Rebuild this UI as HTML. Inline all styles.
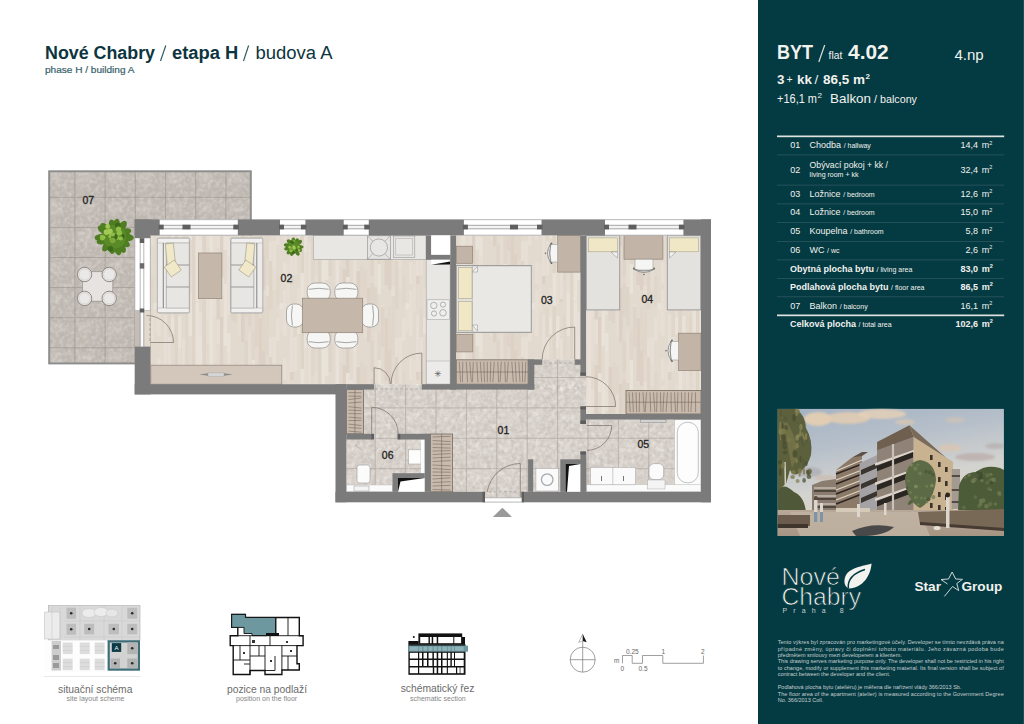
<!DOCTYPE html>
<html><head><meta charset="utf-8"><title>Nové Chabry 4.02</title>
<style>html,body{margin:0;padding:0;background:#fff;}body{width:1024px;height:724px;overflow:hidden;font-family:"Liberation Sans",sans-serif;}svg{display:block;}</style>
</head><body>
<svg width="1024" height="724" viewBox="0 0 1024 724"><defs><pattern id="wood" patternUnits="userSpaceOnUse" x="150" y="235" width="126" height="96"><rect width="126" height="96" fill="#e3dacf"/><rect x="0" y="41" width="3.5" height="29" fill="#e0d6ca"/><rect x="0" y="-55" width="3.5" height="29" fill="#e0d6ca"/><rect x="0" y="83" width="3.5" height="23" fill="#e7dfd5"/><rect x="0" y="-13" width="3.5" height="23" fill="#e7dfd5"/><rect x="3.5" y="68" width="3.5" height="26" fill="#e9e2d9"/><rect x="3.5" y="-28" width="3.5" height="26" fill="#e9e2d9"/><rect x="3.5" y="74" width="3.5" height="23" fill="#e5ddd2"/><rect x="3.5" y="-22" width="3.5" height="23" fill="#e5ddd2"/><rect x="7.0" y="27" width="3.5" height="22" fill="#e7dfd5"/><rect x="7.0" y="-69" width="3.5" height="22" fill="#e7dfd5"/><rect x="7.0" y="55" width="3.5" height="46" fill="#e7dfd5"/><rect x="7.0" y="-41" width="3.5" height="46" fill="#e7dfd5"/><rect x="10.5" y="30" width="3.5" height="25" fill="#e5ddd2"/><rect x="10.5" y="-66" width="3.5" height="25" fill="#e5ddd2"/><rect x="10.5" y="54" width="3.5" height="23" fill="#e5ddd2"/><rect x="10.5" y="-42" width="3.5" height="23" fill="#e5ddd2"/><rect x="14.0" y="15" width="3.5" height="34" fill="#dcd1c4"/><rect x="14.0" y="-81" width="3.5" height="34" fill="#dcd1c4"/><rect x="14.0" y="80" width="3.5" height="57" fill="#e7dfd5"/><rect x="14.0" y="-16" width="3.5" height="57" fill="#e7dfd5"/><rect x="17.5" y="73" width="3.5" height="57" fill="#e0d6ca"/><rect x="17.5" y="-23" width="3.5" height="57" fill="#e0d6ca"/><rect x="17.5" y="6" width="3.5" height="34" fill="#e7dfd5"/><rect x="17.5" y="-90" width="3.5" height="34" fill="#e7dfd5"/><rect x="21.0" y="71" width="3.5" height="28" fill="#e9e2d9"/><rect x="21.0" y="-25" width="3.5" height="28" fill="#e9e2d9"/><rect x="21.0" y="53" width="3.5" height="29" fill="#e5ddd2"/><rect x="21.0" y="-43" width="3.5" height="29" fill="#e5ddd2"/><rect x="24.5" y="15" width="3.5" height="56" fill="#e9e2d9"/><rect x="24.5" y="-81" width="3.5" height="56" fill="#e9e2d9"/><rect x="24.5" y="71" width="3.5" height="63" fill="#ded4c8"/><rect x="24.5" y="-25" width="3.5" height="63" fill="#ded4c8"/><rect x="28.0" y="13" width="3.5" height="57" fill="#e5ddd2"/><rect x="28.0" y="-83" width="3.5" height="57" fill="#e5ddd2"/><rect x="28.0" y="81" width="3.5" height="32" fill="#e9e2d9"/><rect x="28.0" y="-15" width="3.5" height="32" fill="#e9e2d9"/><rect x="31.5" y="12" width="3.5" height="55" fill="#dcd1c4"/><rect x="31.5" y="-84" width="3.5" height="55" fill="#dcd1c4"/><rect x="31.5" y="8" width="3.5" height="56" fill="#e7dfd5"/><rect x="31.5" y="-88" width="3.5" height="56" fill="#e7dfd5"/><rect x="35.0" y="79" width="3.5" height="33" fill="#e0d6ca"/><rect x="35.0" y="-17" width="3.5" height="33" fill="#e0d6ca"/><rect x="35.0" y="87" width="3.5" height="54" fill="#e0d6ca"/><rect x="35.0" y="-9" width="3.5" height="54" fill="#e0d6ca"/><rect x="38.5" y="40" width="3.5" height="49" fill="#e5ddd2"/><rect x="38.5" y="-56" width="3.5" height="49" fill="#e5ddd2"/><rect x="38.5" y="58" width="3.5" height="43" fill="#e9e2d9"/><rect x="38.5" y="-38" width="3.5" height="43" fill="#e9e2d9"/><rect x="42.0" y="31" width="3.5" height="70" fill="#ded4c8"/><rect x="42.0" y="-65" width="3.5" height="70" fill="#ded4c8"/><rect x="42.0" y="89" width="3.5" height="69" fill="#ded4c8"/><rect x="42.0" y="-7" width="3.5" height="69" fill="#ded4c8"/><rect x="45.5" y="10" width="3.5" height="56" fill="#e9e2d9"/><rect x="45.5" y="-86" width="3.5" height="56" fill="#e9e2d9"/><rect x="45.5" y="67" width="3.5" height="51" fill="#e9e2d9"/><rect x="45.5" y="-29" width="3.5" height="51" fill="#e9e2d9"/><rect x="49.0" y="93" width="3.5" height="48" fill="#e9e2d9"/><rect x="49.0" y="-3" width="3.5" height="48" fill="#e9e2d9"/><rect x="49.0" y="77" width="3.5" height="24" fill="#e7dfd5"/><rect x="49.0" y="-19" width="3.5" height="24" fill="#e7dfd5"/><rect x="52.5" y="65" width="3.5" height="46" fill="#ded4c8"/><rect x="52.5" y="-31" width="3.5" height="46" fill="#ded4c8"/><rect x="52.5" y="96" width="3.5" height="41" fill="#ded4c8"/><rect x="52.5" y="0" width="3.5" height="41" fill="#ded4c8"/><rect x="56.0" y="62" width="3.5" height="46" fill="#e7dfd5"/><rect x="56.0" y="-34" width="3.5" height="46" fill="#e7dfd5"/><rect x="56.0" y="85" width="3.5" height="24" fill="#e5ddd2"/><rect x="56.0" y="-11" width="3.5" height="24" fill="#e5ddd2"/><rect x="59.5" y="73" width="3.5" height="70" fill="#e9e2d9"/><rect x="59.5" y="-23" width="3.5" height="70" fill="#e9e2d9"/><rect x="59.5" y="43" width="3.5" height="64" fill="#e9e2d9"/><rect x="59.5" y="-53" width="3.5" height="64" fill="#e9e2d9"/><rect x="63.0" y="76" width="3.5" height="51" fill="#e5ddd2"/><rect x="63.0" y="-20" width="3.5" height="51" fill="#e5ddd2"/><rect x="63.0" y="58" width="3.5" height="24" fill="#e7dfd5"/><rect x="63.0" y="-38" width="3.5" height="24" fill="#e7dfd5"/><rect x="66.5" y="34" width="3.5" height="50" fill="#dcd1c4"/><rect x="66.5" y="-62" width="3.5" height="50" fill="#dcd1c4"/><rect x="66.5" y="85" width="3.5" height="24" fill="#e7dfd5"/><rect x="66.5" y="-11" width="3.5" height="24" fill="#e7dfd5"/><rect x="70.0" y="93" width="3.5" height="64" fill="#e9e2d9"/><rect x="70.0" y="-3" width="3.5" height="64" fill="#e9e2d9"/><rect x="70.0" y="82" width="3.5" height="56" fill="#dcd1c4"/><rect x="70.0" y="-14" width="3.5" height="56" fill="#dcd1c4"/><rect x="73.5" y="57" width="3.5" height="38" fill="#dcd1c4"/><rect x="73.5" y="-39" width="3.5" height="38" fill="#dcd1c4"/><rect x="73.5" y="49" width="3.5" height="62" fill="#e9e2d9"/><rect x="73.5" y="-47" width="3.5" height="62" fill="#e9e2d9"/><rect x="77.0" y="2" width="3.5" height="49" fill="#e9e2d9"/><rect x="77.0" y="-94" width="3.5" height="49" fill="#e9e2d9"/><rect x="77.0" y="21" width="3.5" height="59" fill="#e7dfd5"/><rect x="77.0" y="-75" width="3.5" height="59" fill="#e7dfd5"/><rect x="80.5" y="63" width="3.5" height="23" fill="#ded4c8"/><rect x="80.5" y="-33" width="3.5" height="23" fill="#ded4c8"/><rect x="80.5" y="36" width="3.5" height="28" fill="#dcd1c4"/><rect x="80.5" y="-60" width="3.5" height="28" fill="#dcd1c4"/><rect x="84.0" y="31" width="3.5" height="45" fill="#e0d6ca"/><rect x="84.0" y="-65" width="3.5" height="45" fill="#e0d6ca"/><rect x="84.0" y="63" width="3.5" height="25" fill="#ded4c8"/><rect x="84.0" y="-33" width="3.5" height="25" fill="#ded4c8"/><rect x="87.5" y="57" width="3.5" height="45" fill="#e5ddd2"/><rect x="87.5" y="-39" width="3.5" height="45" fill="#e5ddd2"/><rect x="87.5" y="35" width="3.5" height="28" fill="#e0d6ca"/><rect x="87.5" y="-61" width="3.5" height="28" fill="#e0d6ca"/><rect x="91.0" y="70" width="3.5" height="37" fill="#dcd1c4"/><rect x="91.0" y="-26" width="3.5" height="37" fill="#dcd1c4"/><rect x="91.0" y="53" width="3.5" height="42" fill="#dcd1c4"/><rect x="91.0" y="-43" width="3.5" height="42" fill="#dcd1c4"/><rect x="94.5" y="48" width="3.5" height="34" fill="#ded4c8"/><rect x="94.5" y="-48" width="3.5" height="34" fill="#ded4c8"/><rect x="94.5" y="10" width="3.5" height="31" fill="#ded4c8"/><rect x="94.5" y="-86" width="3.5" height="31" fill="#ded4c8"/><rect x="98.0" y="29" width="3.5" height="62" fill="#ded4c8"/><rect x="98.0" y="-67" width="3.5" height="62" fill="#ded4c8"/><rect x="98.0" y="1" width="3.5" height="51" fill="#e5ddd2"/><rect x="98.0" y="-95" width="3.5" height="51" fill="#e5ddd2"/><rect x="101.5" y="23" width="3.5" height="36" fill="#e9e2d9"/><rect x="101.5" y="-73" width="3.5" height="36" fill="#e9e2d9"/><rect x="101.5" y="0" width="3.5" height="29" fill="#e0d6ca"/><rect x="101.5" y="-96" width="3.5" height="29" fill="#e0d6ca"/><rect x="105.0" y="68" width="3.5" height="43" fill="#e5ddd2"/><rect x="105.0" y="-28" width="3.5" height="43" fill="#e5ddd2"/><rect x="105.0" y="72" width="3.5" height="40" fill="#ded4c8"/><rect x="105.0" y="-24" width="3.5" height="40" fill="#ded4c8"/><rect x="108.5" y="88" width="3.5" height="52" fill="#e5ddd2"/><rect x="108.5" y="-8" width="3.5" height="52" fill="#e5ddd2"/><rect x="108.5" y="83" width="3.5" height="63" fill="#dcd1c4"/><rect x="108.5" y="-13" width="3.5" height="63" fill="#dcd1c4"/><rect x="112.0" y="6" width="3.5" height="49" fill="#dcd1c4"/><rect x="112.0" y="-90" width="3.5" height="49" fill="#dcd1c4"/><rect x="112.0" y="71" width="3.5" height="45" fill="#e0d6ca"/><rect x="112.0" y="-25" width="3.5" height="45" fill="#e0d6ca"/><rect x="115.5" y="51" width="3.5" height="45" fill="#e7dfd5"/><rect x="115.5" y="-45" width="3.5" height="45" fill="#e7dfd5"/><rect x="115.5" y="61" width="3.5" height="60" fill="#e0d6ca"/><rect x="115.5" y="-35" width="3.5" height="60" fill="#e0d6ca"/><rect x="119.0" y="7" width="3.5" height="32" fill="#e7dfd5"/><rect x="119.0" y="-89" width="3.5" height="32" fill="#e7dfd5"/><rect x="119.0" y="26" width="3.5" height="48" fill="#ded4c8"/><rect x="119.0" y="-70" width="3.5" height="48" fill="#ded4c8"/><rect x="122.5" y="14" width="3.5" height="41" fill="#e5ddd2"/><rect x="122.5" y="-82" width="3.5" height="41" fill="#e5ddd2"/><rect x="122.5" y="6" width="3.5" height="26" fill="#e7dfd5"/><rect x="122.5" y="-90" width="3.5" height="26" fill="#e7dfd5"/></pattern><pattern id="tile" patternUnits="userSpaceOnUse" x="344.3" y="377" width="30.4" height="30.4"><rect width="30.4" height="30.4" fill="#d6cfc8"/><rect x="3" y="4" width="12" height="10" fill="#dbd4cd" opacity="0.8"/><rect x="16" y="17" width="11" height="9" fill="#d1cac3" opacity="0.8"/><path d="M0 0.3H30.4M0.3 0V30.4" stroke="#beb6ae" stroke-width="0.7"/></pattern><pattern id="tilel" patternUnits="userSpaceOnUse" x="344.3" y="377" width="30.4" height="30.4"><path d="M0 0.3H30.4M0.3 0V30.4" stroke="#b3aaa2" stroke-width="0.8"/></pattern><pattern id="btilel" patternUnits="userSpaceOnUse" x="44.2" y="166.7" width="30.2" height="30.1"><path d="M0 0.4H30.2M0.4 0V30.1" stroke="#a29a93" stroke-width="0.6"/></pattern><pattern id="btile" patternUnits="userSpaceOnUse" x="44.2" y="166.7" width="30.2" height="30.1"><rect width="30.2" height="30.1" fill="#c0b9b2"/><rect x="4" y="5" width="13" height="11" fill="#c9c2bb" opacity="0.8"/><rect x="15" y="16" width="12" height="10" fill="#bfb8b1" opacity="0.8"/><path d="M0 0.4H30.2M0.4 0V30.1" stroke="#aaa29b" stroke-width="0.8"/></pattern><pattern id="ward" patternUnits="userSpaceOnUse" width="6" height="24" ><rect width="6" height="24" fill="#c2b2a2"/><path d="M1 1L4 11M1 13L4 23" stroke="#7d6e60" stroke-width="0.6"/></pattern><filter id="grain" x="0" y="0" width="100%" height="100%" filterUnits="objectBoundingBox"><feTurbulence type="fractalNoise" baseFrequency="0.2" numOctaves="3" seed="5" result="n"/><feColorMatrix in="n" type="matrix" values="0 0 0 0 0.45  0 0 0 0 0.42  0 0 0 0 0.39  0.9 0 0 0 -0.38" result="c"/><feComposite in="c" in2="SourceAlpha" operator="in"/></filter><filter id="grainw" x="0" y="0" width="100%" height="100%" filterUnits="objectBoundingBox"><feTurbulence type="fractalNoise" baseFrequency="0.25" numOctaves="3" seed="9" result="n"/><feColorMatrix in="n" type="matrix" values="0 0 0 0 1  0 0 0 0 1  0 0 0 0 1  0.9 0 0 0 -0.36" result="c"/><feComposite in="c" in2="SourceAlpha" operator="in"/></filter></defs>
<rect x="758.00" y="0.00" width="266.00" height="724.00" fill="#043a42" />
<rect x="1023.00" y="0.00" width="1.00" height="724.00" fill="#1f4d55" />
<rect x="48.20" y="170.30" width="203.60" height="194.10" fill="#8d8d8d" />
<rect x="50.20" y="172.30" width="199.60" height="190.10" fill="url(#btile)" />
<rect x="50.2" y="172.3" width="199.6" height="190.1" fill="#000" filter="url(#grain)" opacity="0.8"/>
<rect x="50.2" y="172.3" width="199.6" height="190.1" fill="#000" filter="url(#grainw)" opacity="0.7"/>
<rect x="50.2" y="172.3" width="199.6" height="190.1" fill="url(#btilel)"/>
<rect x="150.50" y="235.40" width="299.70" height="148.80" fill="url(#wood)" />
<rect x="456.00" y="235.40" width="124.40" height="124.20" fill="url(#wood)" />
<rect x="586.00" y="235.40" width="115.00" height="178.80" fill="url(#wood)" />
<rect x="346.30" y="384.20" width="234.20" height="107.60" fill="url(#tile)" />
<rect x="528.00" y="359.40" width="52.50" height="30.60" fill="url(#tile)" />
<rect x="580.00" y="370.00" width="6.00" height="90.00" fill="url(#tile)" />
<rect x="586.00" y="419.60" width="115.00" height="72.20" fill="url(#tile)" />
<rect x="346.30" y="439.50" width="78.40" height="52.30" fill="url(#tile)" />
<rect x="484.00" y="491.00" width="38.00" height="6.80" fill="url(#tile)" />
<rect x="346.3" y="384.2" width="234.2" height="107.6" fill="#000" filter="url(#grain)"/>
<rect x="346.3" y="384.2" width="234.2" height="107.6" fill="#000" filter="url(#grainw)"/>
<rect x="346.3" y="384.2" width="234.2" height="107.6" fill="url(#tilel)"/>
<rect x="528" y="359.4" width="52.5" height="30.6" fill="#000" filter="url(#grain)"/>
<rect x="528" y="359.4" width="52.5" height="30.6" fill="#000" filter="url(#grainw)"/>
<rect x="528" y="359.4" width="52.5" height="30.6" fill="url(#tilel)"/>
<rect x="586" y="419.6" width="115.0" height="72.2" fill="#000" filter="url(#grain)"/>
<rect x="586" y="419.6" width="115.0" height="72.2" fill="#000" filter="url(#grainw)"/>
<rect x="586" y="419.6" width="115.0" height="72.2" fill="url(#tilel)"/>
<rect x="580" y="375" width="6.0" height="85.0" fill="#000" filter="url(#grain)"/>
<rect x="580" y="375" width="6.0" height="85.0" fill="#000" filter="url(#grainw)"/>
<rect x="580" y="375" width="6.0" height="85.0" fill="url(#tilel)"/>
<rect x="484" y="491" width="38.0" height="6.8" fill="#000" filter="url(#grain)"/>
<rect x="484" y="491" width="38.0" height="6.8" fill="#000" filter="url(#grainw)"/>
<rect x="484" y="491" width="38.0" height="6.8" fill="url(#tilel)"/>
<rect x="157.30" y="238.00" width="32.30" height="75.00" rx="1.5" fill="#edeceb" stroke="#a3a3a3" stroke-width="0.8"/>
<rect x="157.80" y="238.50" width="31.30" height="4.50" rx="0" fill="#f1f0ee" stroke="#a8a8a8" stroke-width="0.5"/>
<rect x="157.80" y="308.00" width="31.30" height="4.50" rx="0" fill="#f1f0ee" stroke="#a8a8a8" stroke-width="0.5"/>
<path d="M163.3 243V308" stroke="#555" stroke-width="0.7" fill="none" />
<path d="M166.3 243V308" stroke="#8a8a8a" stroke-width="0.5" fill="none" />
<rect x="166.30" y="243.00" width="22.80" height="65.00" rx="0" fill="#e7e6e3" stroke="#a0a0a0" stroke-width="0.5"/>
<path d="M166.3 265H189.1" stroke="#666" stroke-width="0.6" fill="none" />
<path d="M166.3 287H189.1" stroke="#666" stroke-width="0.6" fill="none" />
<path d="M165.3 244 L173.3 243 L175.3 262 L167.3 266 Z" fill="#f0e8c8" stroke="#8d8670" stroke-width="0.5"/>
<path d="M164.3 267 L174.3 260 L181.3 270 L171.3 277 Z" fill="#f0e8c8" stroke="#8d8670" stroke-width="0.5"/>
<rect x="230.60" y="238.00" width="32.20" height="75.00" rx="1.5" fill="#edeceb" stroke="#a3a3a3" stroke-width="0.8"/>
<rect x="231.10" y="238.50" width="31.20" height="4.50" rx="0" fill="#f1f0ee" stroke="#a8a8a8" stroke-width="0.5"/>
<rect x="231.10" y="308.00" width="31.20" height="4.50" rx="0" fill="#f1f0ee" stroke="#a8a8a8" stroke-width="0.5"/>
<path d="M256.8 243V308" stroke="#555" stroke-width="0.7" fill="none" />
<path d="M253.8 243V308" stroke="#8a8a8a" stroke-width="0.5" fill="none" />
<rect x="231.10" y="243.00" width="22.70" height="65.00" rx="0" fill="#e7e6e3" stroke="#a0a0a0" stroke-width="0.5"/>
<path d="M231.1 265H253.8" stroke="#666" stroke-width="0.6" fill="none" />
<path d="M231.1 287H253.8" stroke="#666" stroke-width="0.6" fill="none" />
<path d="M254.8 244 L246.8 243 L244.8 262 L252.8 266 Z" fill="#f0e8c8" stroke="#8d8670" stroke-width="0.5"/>
<path d="M255.8 267 L245.8 260 L238.8 270 L248.8 277 Z" fill="#f0e8c8" stroke="#8d8670" stroke-width="0.5"/>
<rect x="198.40" y="253.00" width="23.40" height="45.60" rx="0" fill="#c5b8ab" stroke="#9a8d81" stroke-width="0.8"/>
<ellipse cx="299.3" cy="246.9" rx="4.2" ry="2.0" transform="rotate(3 299.3 246.9)" fill="#4f7d22"/>
<ellipse cx="298.2" cy="249.1" rx="4.2" ry="2.0" transform="rotate(29 298.2 249.1)" fill="#4f7d22"/>
<ellipse cx="296.8" cy="251.9" rx="4.2" ry="2.0" transform="rotate(60 296.8 251.9)" fill="#4f7d22"/>
<ellipse cx="292.3" cy="251.9" rx="4.2" ry="2.0" transform="rotate(105 292.3 251.9)" fill="#4f7d22"/>
<ellipse cx="289.9" cy="250.9" rx="4.2" ry="2.0" transform="rotate(132 289.9 250.9)" fill="#4f7d22"/>
<ellipse cx="288.3" cy="248.1" rx="4.2" ry="2.0" transform="rotate(164 288.3 248.1)" fill="#4f7d22"/>
<ellipse cx="288.0" cy="245.4" rx="4.2" ry="2.0" transform="rotate(192 288.0 245.4)" fill="#4f7d22"/>
<ellipse cx="290.1" cy="242.7" rx="4.2" ry="2.0" transform="rotate(227 290.1 242.7)" fill="#4f7d22"/>
<ellipse cx="293.4" cy="241.6" rx="4.2" ry="2.0" transform="rotate(267 293.4 241.6)" fill="#4f7d22"/>
<ellipse cx="296.1" cy="242.2" rx="4.2" ry="2.0" transform="rotate(299 296.1 242.2)" fill="#4f7d22"/>
<ellipse cx="298.4" cy="243.0" rx="4.2" ry="2.0" transform="rotate(322 298.4 243.0)" fill="#4f7d22"/>
<circle cx="293.7" cy="246.6" r="6.2" fill="#5a8a28"/>
<circle cx="294.5" cy="248.2" r="1.2" fill="#7aa83a"/>
<circle cx="292.9" cy="241.1" r="1.7" fill="#7aa83a"/>
<circle cx="293.9" cy="246.5" r="1.1" fill="#7aa83a"/>
<circle cx="297.7" cy="249.8" r="1.3" fill="#7aa83a"/>
<circle cx="298.5" cy="247.1" r="1.3" fill="#8fbd45"/>
<circle cx="294.3" cy="248.5" r="1.2" fill="#a2c957"/>
<circle cx="292.5" cy="242.2" r="1.7" fill="#3d6a1a"/>
<circle cx="289.7" cy="247.2" r="1.3" fill="#a2c957"/>
<circle cx="291.2" cy="241.6" r="1.3" fill="#3d6a1a"/>
<circle cx="296.8" cy="250.3" r="1.3" fill="#3d6a1a"/>
<circle cx="293.6" cy="246.3" r="1.6" fill="#7aa83a"/>
<circle cx="293.9" cy="247.3" r="1.6" fill="#a2c957"/>
<circle cx="293.5" cy="252.6" r="1.6" fill="#3d6a1a"/>
<circle cx="294.3" cy="241.1" r="1.1" fill="#7aa83a"/>
<circle cx="299.1" cy="250.3" r="1.2" fill="#8fbd45"/>
<circle cx="291.0" cy="250.6" r="1.7" fill="#8fbd45"/>
<circle cx="291.2" cy="248.5" r="1.6" fill="#7aa83a"/>
<ellipse cx="125.9" cy="237.4" rx="8.0" ry="3.8" transform="rotate(3 125.9 237.4)" fill="#4f7d22"/>
<ellipse cx="122.8" cy="241.9" rx="8.0" ry="3.8" transform="rotate(31 122.8 241.9)" fill="#4f7d22"/>
<ellipse cx="120.5" cy="245.9" rx="8.0" ry="3.8" transform="rotate(56 120.5 245.9)" fill="#4f7d22"/>
<ellipse cx="117.3" cy="247.6" rx="8.0" ry="3.8" transform="rotate(74 117.3 247.6)" fill="#4f7d22"/>
<ellipse cx="112.9" cy="246.1" rx="8.0" ry="3.8" transform="rotate(98 112.9 246.1)" fill="#4f7d22"/>
<ellipse cx="108.0" cy="244.7" rx="8.0" ry="3.8" transform="rotate(129 108.0 244.7)" fill="#4f7d22"/>
<ellipse cx="104.3" cy="240.1" rx="8.0" ry="3.8" transform="rotate(162 104.3 240.1)" fill="#4f7d22"/>
<ellipse cx="102.6" cy="237.5" rx="8.0" ry="3.8" transform="rotate(177 102.6 237.5)" fill="#4f7d22"/>
<ellipse cx="104.8" cy="230.9" rx="8.0" ry="3.8" transform="rotate(212 104.8 230.9)" fill="#4f7d22"/>
<ellipse cx="106.5" cy="229.2" rx="8.0" ry="3.8" transform="rotate(224 106.5 229.2)" fill="#4f7d22"/>
<ellipse cx="112.6" cy="227.4" rx="8.0" ry="3.8" transform="rotate(260 112.6 227.4)" fill="#4f7d22"/>
<ellipse cx="116.0" cy="226.6" rx="8.0" ry="3.8" transform="rotate(280 116.0 226.6)" fill="#4f7d22"/>
<ellipse cx="121.2" cy="227.6" rx="8.0" ry="3.8" transform="rotate(307 121.2 227.6)" fill="#4f7d22"/>
<ellipse cx="123.7" cy="232.9" rx="8.0" ry="3.8" transform="rotate(338 123.7 232.9)" fill="#4f7d22"/>
<circle cx="114.3" cy="236.8" r="11.8" fill="#5a8a28"/>
<circle cx="122.2" cy="236.3" r="2.5" fill="#3d6a1a"/>
<circle cx="110.9" cy="236.2" r="2.4" fill="#8fbd45"/>
<circle cx="113.9" cy="235.8" r="2.7" fill="#a2c957"/>
<circle cx="106.5" cy="232.1" r="2.8" fill="#a2c957"/>
<circle cx="107.7" cy="226.4" r="2.4" fill="#a2c957"/>
<circle cx="110.4" cy="248.7" r="2.8" fill="#3d6a1a"/>
<circle cx="117.4" cy="237.8" r="2.1" fill="#8fbd45"/>
<circle cx="114.3" cy="237.0" r="2.6" fill="#7aa83a"/>
<circle cx="103.3" cy="237.4" r="2.0" fill="#a2c957"/>
<circle cx="114.5" cy="236.7" r="3.2" fill="#3d6a1a"/>
<circle cx="117.7" cy="225.5" r="2.8" fill="#3d6a1a"/>
<circle cx="109.9" cy="231.3" r="2.8" fill="#a2c957"/>
<circle cx="111.9" cy="239.3" r="2.2" fill="#8fbd45"/>
<circle cx="112.8" cy="234.7" r="2.1" fill="#8fbd45"/>
<circle cx="119.2" cy="231.6" r="1.9" fill="#8fbd45"/>
<circle cx="102.2" cy="238.0" r="2.4" fill="#8fbd45"/>
<circle cx="102.0" cy="236.9" r="2.2" fill="#8fbd45"/>
<circle cx="120.8" cy="238.4" r="2.1" fill="#8fbd45"/>
<circle cx="118.5" cy="229.2" r="2.6" fill="#8fbd45"/>
<circle cx="113.0" cy="238.7" r="2.3" fill="#3d6a1a"/>
<circle cx="112.7" cy="240.3" r="2.9" fill="#7aa83a"/>
<circle cx="119.4" cy="233.0" r="2.8" fill="#8fbd45"/>
<rect x="82.4" y="271.6" width="30.4" height="29.7" rx="3" fill="#e6e3e0" stroke="#8f8a86" stroke-width="0.7"/>
<circle cx="84.6" cy="274.5" r="7.2" fill="#ebe9e7" stroke="#77726e" stroke-width="0.8"/>
<circle cx="84.6" cy="274.5" r="5.6" fill="none" stroke="#c9c6c3" stroke-width="0.6"/>
<circle cx="109.2" cy="274.5" r="7.2" fill="#ebe9e7" stroke="#77726e" stroke-width="0.8"/>
<circle cx="109.2" cy="274.5" r="5.6" fill="none" stroke="#c9c6c3" stroke-width="0.6"/>
<circle cx="84.6" cy="298.4" r="7.2" fill="#ebe9e7" stroke="#77726e" stroke-width="0.8"/>
<circle cx="84.6" cy="298.4" r="5.6" fill="none" stroke="#c9c6c3" stroke-width="0.6"/>
<circle cx="109.2" cy="298.4" r="7.2" fill="#ebe9e7" stroke="#77726e" stroke-width="0.8"/>
<circle cx="109.2" cy="298.4" r="5.6" fill="none" stroke="#c9c6c3" stroke-width="0.6"/>
<rect x="313.30" y="235.40" width="112.70" height="24.10" rx="0" fill="#e9e7e4" stroke="#a9a9a9" stroke-width="0.7"/>
<rect x="367.50" y="235.80" width="22.80" height="23.40" rx="0" fill="#e6e4e1" stroke="#8a8a8a" stroke-width="0.6"/>
<path d="M367.5 235.8L390.3 259.2M390.3 235.8L367.5 259.2" stroke="#8a8a8a" stroke-width="0.5" fill="none" />
<circle cx="378.9" cy="247.5" r="8.6" fill="#e8e6e3" stroke="#8a8a8a" stroke-width="0.6"/>
<rect x="393.40" y="236.00" width="21.40" height="21.50" rx="0" fill="#e6e4e1" stroke="#9a9a9a" stroke-width="0.6"/>
<rect x="395.80" y="238.50" width="16.60" height="16.50" rx="0" fill="#e9e7e4" stroke="#a5a5a5" stroke-width="0.5"/>
<rect x="426.20" y="259.50" width="24.00" height="124.70" rx="0" fill="#e9e7e4" stroke="#a9a9a9" stroke-width="0.7"/>
<path d="M431.2 259.5H450.2V264.5L431.2 264.8Z" fill="#fff"/>
<path d="M431.2 264.8L450.2 261.5V264.5Z" fill="#111"/>
<rect x="427.00" y="299.80" width="22.40" height="19.80" rx="0" fill="#eeeeec" stroke="#9c9c9c" stroke-width="0.5"/>
<circle cx="433.8" cy="305.5" r="3.2" fill="none" stroke="#8a8a8a" stroke-width="0.6"/>
<circle cx="443" cy="304.6" r="2.6" fill="none" stroke="#8a8a8a" stroke-width="0.6"/>
<circle cx="434" cy="313.5" r="2.6" fill="none" stroke="#8a8a8a" stroke-width="0.6"/>
<circle cx="443" cy="312.8" r="3.3" fill="none" stroke="#8a8a8a" stroke-width="0.6"/>
<rect x="426.50" y="361.00" width="23.50" height="23.00" rx="0" fill="#ecebe9" stroke="#a9a9a9" stroke-width="0.5"/>
<text x="438.2" y="377" font-family='"Liberation Sans", sans-serif' font-size="9" text-anchor="middle" fill="#555">&#x2733;</text>
<rect x="307.2" y="283.0" width="23.0" height="18.0" rx="7.6" fill="#f6f6f5" stroke="#8c8c8c" stroke-width="0.7"/>
<path d="M308.7 289.3Q318.7 287.3 328.7 289.3" stroke="#9b9b9b" stroke-width="0.9" fill="none" />
<rect x="307.2" y="330.0" width="23.0" height="18.0" rx="7.6" fill="#f6f6f5" stroke="#8c8c8c" stroke-width="0.7"/>
<path d="M308.7 341.7Q318.7 343.7 328.7 341.7" stroke="#9b9b9b" stroke-width="0.9" fill="none" />
<rect x="334.8" y="283.0" width="23.0" height="18.0" rx="7.6" fill="#f6f6f5" stroke="#8c8c8c" stroke-width="0.7"/>
<path d="M336.3 289.3Q346.3 287.3 356.3 289.3" stroke="#9b9b9b" stroke-width="0.9" fill="none" />
<rect x="334.8" y="330.0" width="23.0" height="18.0" rx="7.6" fill="#f6f6f5" stroke="#8c8c8c" stroke-width="0.7"/>
<path d="M336.3 341.7Q346.3 343.7 356.3 341.7" stroke="#9b9b9b" stroke-width="0.9" fill="none" />
<rect x="286.5" y="304.0" width="17.0" height="23.0" rx="7.1" fill="#f6f6f5" stroke="#8c8c8c" stroke-width="0.7"/>
<path d="M292.4 305.5Q290.4 315.5 292.4 325.5" stroke="#9b9b9b" stroke-width="0.9" fill="none" />
<rect x="361.5" y="304.0" width="17.0" height="23.0" rx="7.1" fill="#f6f6f5" stroke="#8c8c8c" stroke-width="0.7"/>
<path d="M372.6 305.5Q374.6 315.5 372.6 325.5" stroke="#9b9b9b" stroke-width="0.9" fill="none" />
<rect x="302.30" y="298.20" width="60.40" height="34.50" rx="0" fill="#c5b8ab" stroke="#8f8378" stroke-width="0.7"/>
<rect x="150.80" y="365.20" width="131.00" height="19.00" rx="0" fill="#d3c7bb" stroke="#8f8378" stroke-width="0.7"/>
<path d="M199 374.5L208 373.3H224L233 374.5L224 375.8H208Z" fill="#8d8d8d"/>
<rect x="208" y="372.8" width="16" height="3.6" rx="0.8" fill="#d7d7d7" stroke="#999" stroke-width="0.4"/>
<rect x="456.30" y="246.20" width="16.30" height="17.10" rx="0" fill="#c2b4a6" stroke="#918477" stroke-width="0.7"/>
<rect x="456.30" y="334.30" width="16.50" height="17.60" rx="0" fill="#c2b4a6" stroke="#918477" stroke-width="0.7"/>
<rect x="456.30" y="265.50" width="75.00" height="66.90" rx="0" fill="#e2e0dc" stroke="#9b9b9b" stroke-width="1.0"/>
<rect x="472.30" y="266.00" width="58.70" height="66.00" rx="0" fill="#e9e8e5" stroke="#a8a8a8" stroke-width="0.5"/>
<rect x="458.50" y="267.50" width="13.50" height="30.80" rx="0" fill="#efe7c6" stroke="#a09a80" stroke-width="0.5"/>
<rect x="458.50" y="301.30" width="13.50" height="29.50" rx="0" fill="#efe7c6" stroke="#a09a80" stroke-width="0.5"/>
<path d="M472.3 272L477.5 266.5V272Z" fill="#f3f3f3" stroke="#888" stroke-width="0.5"/>
<path d="M472.3 325L477.5 331V325Z" fill="#f3f3f3" stroke="#888" stroke-width="0.5"/>
<rect x="557.70" y="235.40" width="22.70" height="36.70" rx="0" fill="#c2b4a6" stroke="#918477" stroke-width="0.7"/>
<rect x="550.0" y="244.5" width="7.7" height="17.5" fill="#f5f5f4" stroke="#8c8c8c" stroke-width="0.5"/>
<path d="M551.0 243.5Q544.0 253.2 551.0 263.0Q548.0 253.2 551.0 243.5Z" fill="#f0f0ef" stroke="#6f6f6f" stroke-width="0.7"/>
<circle cx="551.5" cy="243.3" r="0.9" fill="#666"/><circle cx="551.5" cy="263.2" r="0.9" fill="#666"/><circle cx="545.5" cy="253.2" r="0.8" fill="#666"/>
<rect x="456.30" y="359.80" width="71.80" height="24.40" fill="#c8baac" stroke="#76695e" stroke-width="0.8"/>
<path d="M459.3 361.8L460.6 382.2M462.8 361.8L462.4 382.2M466.3 361.8L467.6 382.2M469.8 361.8L471.3 382.2M473.3 361.8L472.4 382.2M476.8 361.8L478.0 382.2M480.3 361.8L481.7 382.2M483.8 361.8L484.5 382.2M487.3 361.8L487.3 382.2M490.8 361.8L490.2 382.2M494.3 361.8L492.8 382.2M497.8 361.8L498.6 382.2M501.3 361.8L500.1 382.2M504.8 361.8L505.4 382.2M508.3 361.8L506.9 382.2M511.8 361.8L513.3 382.2M515.3 361.8L516.3 382.2M518.8 361.8L520.0 382.2M522.3 361.8L522.6 382.2M525.8 361.8L524.9 382.2M456.3 372.0H528.1" stroke="#6f6258" stroke-width="0.55" fill="none"/>
<rect x="586.30" y="235.60" width="33.40" height="74.30" rx="0" fill="#e4e2de" stroke="#9b9b9b" stroke-width="1.0"/>
<rect x="588.30" y="237.90" width="29.40" height="13.90" rx="0" fill="#efe7c6" stroke="#a09a80" stroke-width="0.5"/>
<rect x="667.30" y="235.60" width="33.40" height="74.30" rx="0" fill="#e4e2de" stroke="#9b9b9b" stroke-width="1.0"/>
<rect x="669.30" y="237.90" width="29.40" height="13.90" rx="0" fill="#efe7c6" stroke="#a09a80" stroke-width="0.5"/>
<path d="M611 252L617.5 252V258Z" fill="#f3f3f3" stroke="#888" stroke-width="0.5"/>
<path d="M676 252L669.5 252V258Z" fill="#f3f3f3" stroke="#888" stroke-width="0.5"/>
<rect x="624.00" y="235.40" width="38.90" height="23.80" rx="0" fill="#c2b4a6" stroke="#918477" stroke-width="0.7"/>
<rect x="635.0" y="259.2" width="18.0" height="10.8" fill="#f5f5f4" stroke="#8c8c8c" stroke-width="0.5"/>
<path d="M634.0 269.0Q644.0 276.0 654.0 269.0Q644.0 273.0 634.0 269.0Z" fill="#f0f0ef" stroke="#6f6f6f" stroke-width="0.7"/>
<circle cx="633.8" cy="268.5" r="0.9" fill="#666"/><circle cx="654.2" cy="268.5" r="0.9" fill="#666"/><circle cx="644.0" cy="274.5" r="0.8" fill="#666"/>
<rect x="678.60" y="333.20" width="22.40" height="37.30" rx="0" fill="#c2b4a6" stroke="#918477" stroke-width="0.7"/>
<rect x="670.5" y="341.5" width="8.1" height="18.5" fill="#f5f5f4" stroke="#8c8c8c" stroke-width="0.5"/>
<path d="M671.5 340.5Q664.5 350.8 671.5 361.0Q668.5 350.8 671.5 340.5Z" fill="#f0f0ef" stroke="#6f6f6f" stroke-width="0.7"/>
<circle cx="672.0" cy="340.3" r="0.9" fill="#666"/><circle cx="672.0" cy="361.2" r="0.9" fill="#666"/><circle cx="666.0" cy="350.8" r="0.8" fill="#666"/>
<rect x="626.00" y="390.40" width="75.00" height="23.60" fill="#c8baac" stroke="#76695e" stroke-width="0.8"/>
<path d="M629.0 392.4L630.3 412.0M632.5 392.4L633.4 412.0M636.0 392.4L636.7 412.0M639.5 392.4L639.2 412.0M643.0 392.4L644.3 412.0M646.5 392.4L645.2 412.0M650.0 392.4L650.7 412.0M653.5 392.4L654.9 412.0M657.0 392.4L656.6 412.0M660.5 392.4L660.9 412.0M664.0 392.4L662.9 412.0M667.5 392.4L666.0 412.0M671.0 392.4L671.3 412.0M674.5 392.4L675.5 412.0M678.0 392.4L677.1 412.0M681.5 392.4L682.0 412.0M685.0 392.4L684.7 412.0M688.5 392.4L688.3 412.0M692.0 392.4L690.9 412.0M695.5 392.4L695.6 412.0M626 402.2H701" stroke="#6f6258" stroke-width="0.55" fill="none"/>
<pattern id="wardh" patternUnits="userSpaceOnUse" width="24" height="6"><rect width="24" height="6" fill="#c2b2a2"/><path d="M1 4L11 1M13 4L23 1" stroke="#7d6e60" stroke-width="0.6"/></pattern>
<rect x="346.40" y="389.60" width="17.10" height="44.20" fill="#c8baac" stroke="#76695e" stroke-width="0.8"/>
<path d="M348.4 392.6L361.5 392.8M348.4 396.1L361.5 396.3M348.4 399.6L361.5 398.0M348.4 403.1L361.5 402.0M348.4 406.6L361.5 408.1M348.4 410.1L361.5 410.6M348.4 413.6L361.5 413.8M348.4 417.1L361.5 418.1M348.4 420.6L361.5 420.4M348.4 424.1L361.5 425.5M348.4 427.6L361.5 428.3M348.4 431.1L361.5 432.2M354.9 389.6V433.8" stroke="#6f6258" stroke-width="0.55" fill="none"/>
<rect x="430.60" y="434.00" width="22.00" height="57.80" fill="#c8baac" stroke="#76695e" stroke-width="0.8"/>
<path d="M432.6 437.0L450.6 436.3M432.6 440.5L450.6 441.6M432.6 444.0L450.6 444.3M432.6 447.5L450.6 448.1M432.6 451.0L450.6 450.7M432.6 454.5L450.6 453.6M432.6 458.0L450.6 457.1M432.6 461.5L450.6 460.6M432.6 465.0L450.6 465.9M432.6 468.5L450.6 469.7M432.6 472.0L450.6 472.2M432.6 475.5L450.6 475.6M432.6 479.0L450.6 477.8M432.6 482.5L450.6 481.7M432.6 486.0L450.6 485.3M432.6 489.5L450.6 490.1M441.6 434V491.8" stroke="#6f6258" stroke-width="0.55" fill="none"/>
<rect x="535.90" y="468.30" width="22.50" height="22.70" rx="0" fill="#fafafa" stroke="#aaa" stroke-width="0.6"/>
<circle cx="547.2" cy="479.6" r="5.8" fill="none" stroke="#aaa" stroke-width="1.3"/>
<rect x="346.40" y="485.00" width="46.10" height="6.80" rx="0" fill="#fbfbfb" stroke="#bbb" stroke-width="0.4"/>
<rect x="354.00" y="486.00" width="15.00" height="5.00" rx="0" fill="#f4f4f4" stroke="#999" stroke-width="0.5"/>
<rect x="357" y="465" width="13" height="18" rx="2.5" fill="#fbfbfb" stroke="#999" stroke-width="0.6"/>
<rect x="408.60" y="449.80" width="12.40" height="14.20" rx="0" fill="#fdfdfd" stroke="#aaa" stroke-width="0.6"/>
<rect x="421.00" y="439.50" width="3.70" height="33.70" fill="#fcfcfc" />
<path d="M355 445L362 450M368 457L372 460M400 447L395 451" stroke="#9a9a9a" stroke-width="0.5" fill="none" />
<rect x="586.30" y="484.80" width="114.50" height="7.00" rx="0" fill="#fbfbfb" stroke="#bbb" stroke-width="0.4"/>
<rect x="674.70" y="419.60" width="26.10" height="65.20" rx="0" fill="#fbfbfb" stroke="#c0c0c0" stroke-width="0.5"/>
<rect x="677.3" y="422.3" width="21" height="60.5" rx="10" fill="#fdfdfd" stroke="#9a9a9a" stroke-width="0.6"/>
<rect x="590.50" y="467.30" width="45.10" height="17.50" rx="0" fill="#fafafa" stroke="#aaa" stroke-width="0.6"/>
<path d="M612.8 467.3V484.8" stroke="#aaa" stroke-width="0.6" fill="none" />
<path d="M601.5 476V481M623.5 476V481" stroke="#555" stroke-width="0.8" fill="none" />
<rect x="649" y="463.6" width="14.7" height="16" rx="5" fill="#fbfbfb" stroke="#999" stroke-width="0.6"/>
<rect x="647.50" y="480.00" width="17.50" height="9.00" rx="0" fill="#f4f4f4" stroke="#aaa" stroke-width="0.5"/>
<rect x="640.30" y="419.60" width="25.70" height="2.90" rx="0" fill="#d2d2d2" stroke="#888" stroke-width="0.5"/>
<rect x="134.70" y="219.40" width="576.30" height="16.00" fill="#7b7b7b" />
<rect x="134.70" y="219.40" width="15.80" height="175.00" fill="#7b7b7b" />
<rect x="134.70" y="384.20" width="211.60" height="10.20" fill="#7b7b7b" />
<rect x="335.50" y="384.20" width="10.80" height="118.10" fill="#7b7b7b" />
<rect x="335.50" y="491.80" width="149.40" height="10.50" fill="#7b7b7b" />
<rect x="521.50" y="491.80" width="189.50" height="10.50" fill="#7b7b7b" />
<rect x="701.00" y="219.40" width="10.00" height="282.90" fill="#7b7b7b" />
<rect x="346.30" y="384.20" width="27.80" height="5.40" fill="#7b7b7b" />
<rect x="421.80" y="384.20" width="112.50" height="5.40" fill="#7b7b7b" />
<rect x="450.20" y="235.40" width="5.80" height="154.20" fill="#7b7b7b" />
<rect x="426.00" y="235.40" width="5.20" height="24.10" fill="#7b7b7b" />
<rect x="426.00" y="254.70" width="24.20" height="4.80" fill="#7b7b7b" />
<rect x="431.20" y="235.40" width="19.00" height="19.30" fill="#ffffff" />
<rect x="528.10" y="359.40" width="6.20" height="30.20" fill="#7b7b7b" />
<rect x="528.10" y="359.40" width="14.10" height="5.40" fill="#7b7b7b" />
<rect x="574.70" y="359.40" width="11.30" height="5.40" fill="#7b7b7b" />
<rect x="580.40" y="235.40" width="5.60" height="140.30" fill="#7b7b7b" />
<rect x="580.40" y="406.40" width="5.60" height="17.60" fill="#7b7b7b" />
<rect x="580.40" y="451.50" width="5.80" height="40.30" fill="#7b7b7b" />
<rect x="586.00" y="414.00" width="115.00" height="5.60" fill="#7b7b7b" />
<rect x="346.30" y="433.80" width="25.40" height="5.70" fill="#7b7b7b" />
<rect x="399.70" y="433.80" width="30.90" height="5.70" fill="#7b7b7b" />
<rect x="424.70" y="433.80" width="5.90" height="58.00" fill="#7b7b7b" />
<rect x="392.50" y="473.20" width="32.20" height="18.60" fill="#7b7b7b" />
<rect x="398.00" y="478.00" width="26.70" height="13.80" fill="#ffffff" />
<path d="M398 478L424.7 478L400.5 481.5L398 491.8Z" fill="#111"/>
<rect x="528.10" y="459.30" width="5.10" height="32.50" fill="#7b7b7b" />
<rect x="560.30" y="459.30" width="25.90" height="32.50" fill="#7b7b7b" />
<rect x="565.50" y="464.00" width="14.90" height="27.80" fill="#ffffff" />
<path d="M565.5 464L580.4 464L569 466L567 491.8H565.5Z" fill="#111"/>
<rect x="371.20" y="433.80" width="2.80" height="5.70" fill="#5e5e5e" />
<rect x="397.50" y="433.80" width="2.70" height="5.70" fill="#5e5e5e" />
<rect x="580.40" y="372.50" width="5.60" height="3.20" fill="#5e5e5e" />
<rect x="580.40" y="406.40" width="5.60" height="3.10" fill="#5e5e5e" />
<rect x="580.40" y="420.50" width="5.60" height="3.50" fill="#5e5e5e" />
<rect x="580.40" y="451.50" width="5.60" height="3.00" fill="#5e5e5e" />
<rect x="482.50" y="491.80" width="2.50" height="10.50" fill="#5e5e5e" />
<rect x="521.50" y="491.80" width="2.50" height="10.50" fill="#5e5e5e" />
<rect x="485.00" y="497.60" width="36.50" height="4.70" fill="#ffffff" />
<path d="M485 497.8H521.5M485 502.1H521.5" stroke="#888" stroke-width="0.6" fill="none" />
<rect x="159.70" y="219.40" width="78.10" height="16.00" fill="#ffffff" />
<path d="M159.7 219.70000000000002H237.8M159.7 235.1H237.8" stroke="#a5a5a5" stroke-width="0.6" fill="none" />
<rect x="159.70" y="225.40" width="78.10" height="3.40" fill="#f4f4f4" />
<path d="M159.7 225.3H237.8M159.7 228.8H237.8" stroke="#8f8f8f" stroke-width="0.8" fill="none" />
<rect x="158.70" y="224.70" width="5.00" height="4.70" fill="#5f5f5f" />
<rect x="233.30" y="224.70" width="5.50" height="4.70" fill="#5f5f5f" />
<rect x="182.50" y="224.70" width="8.00" height="4.70" fill="#5f5f5f" />
<rect x="280.00" y="219.40" width="25.40" height="16.00" fill="#ffffff" />
<path d="M280 219.70000000000002H305.4M280 235.1H305.4" stroke="#a5a5a5" stroke-width="0.6" fill="none" />
<rect x="280.00" y="225.40" width="25.40" height="3.40" fill="#f4f4f4" />
<path d="M280 225.3H305.4M280 228.8H305.4" stroke="#8f8f8f" stroke-width="0.8" fill="none" />
<rect x="279.00" y="224.70" width="5.00" height="4.70" fill="#5f5f5f" />
<rect x="300.90" y="224.70" width="5.50" height="4.70" fill="#5f5f5f" />
<rect x="343.75" y="219.40" width="25.00" height="16.00" fill="#ffffff" />
<path d="M343.75 219.70000000000002H368.75M343.75 235.1H368.75" stroke="#a5a5a5" stroke-width="0.6" fill="none" />
<rect x="343.75" y="225.40" width="25.00" height="3.40" fill="#f4f4f4" />
<path d="M343.75 225.3H368.75M343.75 228.8H368.75" stroke="#8f8f8f" stroke-width="0.8" fill="none" />
<rect x="342.75" y="224.70" width="5.00" height="4.70" fill="#5f5f5f" />
<rect x="364.25" y="224.70" width="5.50" height="4.70" fill="#5f5f5f" />
<rect x="463.90" y="219.40" width="77.60" height="16.00" fill="#ffffff" />
<path d="M463.9 219.70000000000002H541.5M463.9 235.1H541.5" stroke="#a5a5a5" stroke-width="0.6" fill="none" />
<rect x="463.90" y="225.40" width="77.60" height="3.40" fill="#f4f4f4" />
<path d="M463.9 225.3H541.5M463.9 228.8H541.5" stroke="#8f8f8f" stroke-width="0.8" fill="none" />
<rect x="462.90" y="224.70" width="5.00" height="4.70" fill="#5f5f5f" />
<rect x="537.00" y="224.70" width="5.50" height="4.70" fill="#5f5f5f" />
<rect x="510.00" y="224.70" width="8.00" height="4.70" fill="#5f5f5f" />
<rect x="605.00" y="219.40" width="78.40" height="16.00" fill="#ffffff" />
<path d="M605 219.70000000000002H683.4M605 235.1H683.4" stroke="#a5a5a5" stroke-width="0.6" fill="none" />
<rect x="605.00" y="225.40" width="78.40" height="3.40" fill="#f4f4f4" />
<path d="M605 225.3H683.4M605 228.8H683.4" stroke="#8f8f8f" stroke-width="0.8" fill="none" />
<rect x="604.00" y="224.70" width="5.00" height="4.70" fill="#5f5f5f" />
<rect x="678.90" y="224.70" width="5.50" height="4.70" fill="#5f5f5f" />
<rect x="628.50" y="224.70" width="8.00" height="4.70" fill="#5f5f5f" />
<rect x="134.70" y="238.20" width="15.80" height="72.60" fill="#ffffff" />
<path d="M134.9 238.2V310.8M150.3 238.2V310.8M134.7 310.6H150.5" stroke="#a5a5a5" stroke-width="0.6" fill="none" />
<path d="M140.2 238.2V346.6M143.8 238.2V346.6" stroke="#9a9a9a" stroke-width="0.7" fill="none" />
<rect x="134.70" y="310.80" width="5.50" height="35.80" fill="#c4bdb6" />
<rect x="143.80" y="310.80" width="6.70" height="35.80" fill="#e3dacf" />
<rect x="140.20" y="310.80" width="3.60" height="35.80" fill="#fafafa" />
<path d="M140.2 310.8V346.6M143.8 310.8V346.6" stroke="#8a8a8a" stroke-width="0.6" fill="none" />
<rect x="139.80" y="238.20" width="4.40" height="4.80" fill="#5f5f5f" />
<rect x="139.80" y="263.20" width="4.40" height="5.40" fill="#6a6a6a" />
<rect x="139.80" y="308.50" width="4.40" height="4.00" fill="#5f5f5f" />
<path d="M150.5 342.5H173.5A27 27 0 0 0 146.5 315.5" stroke="#7f746b" stroke-width="0.75" fill="none" />
<path d="M150 318V341" stroke="#8a8a8a" stroke-width="0.6" fill="none" stroke-dasharray="3 2"/>
<path d="M374.1 384V367.7A16.3 16.3 0 0 1 390.4 384" stroke="#7f746b" stroke-width="0.75" fill="none" />
<path d="M421.8 384V353.1A30.7 30.7 0 0 0 391.1 384" stroke="#7f746b" stroke-width="0.75" fill="none" />
<path d="M375 389H421" stroke="#9a9a9a" stroke-width="0.6" fill="none" stroke-dasharray="3 2"/>
<path d="M574.7 359.4V327A32.5 32.5 0 0 0 542.2 359.4" stroke="#7f746b" stroke-width="0.75" fill="none" />
<path d="M585.8 406.5H615.6A29.8 29.8 0 0 0 585.8 376.7" stroke="#7f746b" stroke-width="0.75" fill="none" />
<path d="M371.7 433.8V407.3A26.5 26.5 0 0 1 398.2 433.8" stroke="#7f746b" stroke-width="0.75" fill="none" />
<path d="M586.8 425.5H611.7A24.9 24.9 0 0 1 586.8 450.4" stroke="#7f746b" stroke-width="0.75" fill="none" />
<path d="M520.3 497V463.5A33.5 33.5 0 0 0 487.2 491.8" stroke="#7f746b" stroke-width="0.75" fill="none" />
<path d="M489 491.8H518" stroke="#9a9a9a" stroke-width="0.7" fill="none" stroke-dasharray="2.5 2.5"/>
<path d="M544 363H574" stroke="#9a9a9a" stroke-width="0.6" fill="none" stroke-dasharray="3 2"/>
<path d="M502.4 507.7L511.9 516.9H492.8Z" fill="#9a9a9a"/>
<text x="82.5" y="203.6" font-family='"Liberation Sans", sans-serif' font-size="10.5" fill="#222" stroke="#222" stroke-width="0.3">07</text>
<text x="280.6" y="281.8" font-family='"Liberation Sans", sans-serif' font-size="10.5" fill="#222" stroke="#222" stroke-width="0.3">02</text>
<text x="540.9" y="303.5" font-family='"Liberation Sans", sans-serif' font-size="10.5" fill="#222" stroke="#222" stroke-width="0.3">03</text>
<text x="641.4" y="303" font-family='"Liberation Sans", sans-serif' font-size="10.5" fill="#222" stroke="#222" stroke-width="0.3">04</text>
<text x="497.6" y="434" font-family='"Liberation Sans", sans-serif' font-size="10.5" fill="#222" stroke="#222" stroke-width="0.3">01</text>
<text x="381.8" y="459" font-family='"Liberation Sans", sans-serif' font-size="10.5" fill="#222" stroke="#222" stroke-width="0.3">06</text>
<text x="637.5" y="447.5" font-family='"Liberation Sans", sans-serif' font-size="10.5" fill="#222" stroke="#222" stroke-width="0.3">05</text>
<text x="45" y="58.7" font-family='"Liberation Sans", sans-serif' font-size="17.6" font-weight="bold" fill="#0d3540" textLength="110" lengthAdjust="spacingAndGlyphs">Nové Chabry</text>
<path d="M165.8 45.5L160.5 61" stroke="#2d5a63" stroke-width="1.15"/>
<text x="172" y="58.7" font-family='"Liberation Sans", sans-serif' font-size="17.6" font-weight="bold" fill="#0d3540" textLength="66.3" lengthAdjust="spacingAndGlyphs">etapa H</text>
<path d="M248.6 45.5L243.5 61" stroke="#2d5a63" stroke-width="1.15"/>
<text x="255.5" y="58.7" font-family='"Liberation Sans", sans-serif' font-size="17.6" font-weight="normal" fill="#0d3540" textLength="77" lengthAdjust="spacingAndGlyphs">budova A</text>
<text x="45" y="72.5" font-family='"Liberation Sans", sans-serif' font-size="9.8" fill="#36606a" stroke="#36606a" stroke-width="0.2" textLength="89.5" lengthAdjust="spacingAndGlyphs">phase H / building A</text>
<text x="777" y="59.4" font-family='"Liberation Sans", sans-serif' font-size="19.3" font-weight="bold" fill="#f2f2ee" text-anchor="start" textLength="36" lengthAdjust="spacingAndGlyphs">BYT</text>
<path d="M824.7 45L818.8 62" stroke="#d9dedc" stroke-width="1.2"/>
<text x="828.6" y="59.4" font-family='"Liberation Sans", sans-serif' font-size="10.3" font-weight="normal" fill="#f2f2ee" text-anchor="start" >flat</text>
<text x="848" y="59.4" font-family='"Liberation Sans", sans-serif' font-size="19.3" font-weight="bold" fill="#f2f2ee" text-anchor="start" textLength="40.7" lengthAdjust="spacingAndGlyphs">4.02</text>
<text x="954.4" y="59.6" font-family='"Liberation Sans", sans-serif' font-size="15" font-weight="normal" fill="#f2f2ee" text-anchor="start" textLength="29.3" lengthAdjust="spacingAndGlyphs">4.np</text>
<text x="777" y="83.9" font-family='"Liberation Sans", sans-serif' font-size="13.4" font-weight="bold" fill="#f2f2ee" text-anchor="start" >3</text>
<text x="786.5" y="83.4" font-family='"Liberation Sans", sans-serif' font-size="10.5" font-weight="normal" fill="#f2f2ee" text-anchor="start" >+</text>
<text x="797" y="83.9" font-family='"Liberation Sans", sans-serif' font-size="13.4" font-weight="bold" fill="#f2f2ee" text-anchor="start" >kk</text>
<text x="814.5" y="83.9" font-family='"Liberation Sans", sans-serif' font-size="13.4" font-weight="normal" fill="#f2f2ee" text-anchor="start" >/</text>
<text x="823" y="83.9" font-family='"Liberation Sans", sans-serif' font-size="13.4" font-weight="bold" fill="#f2f2ee" text-anchor="start" textLength="42" lengthAdjust="spacingAndGlyphs">86,5 m</text>
<text x="865.5" y="78.5" font-family='"Liberation Sans", sans-serif' font-size="8" font-weight="bold" fill="#f2f2ee" text-anchor="start" >2</text>
<text x="777" y="103.4" font-family='"Liberation Sans", sans-serif' font-size="13.4" font-weight="normal" fill="#f2f2ee" text-anchor="start" textLength="40" lengthAdjust="spacingAndGlyphs">+16,1 m</text>
<text x="817.5" y="98" font-family='"Liberation Sans", sans-serif' font-size="8" font-weight="normal" fill="#f2f2ee" text-anchor="start" >2</text>
<text x="830" y="103.4" font-family='"Liberation Sans", sans-serif' font-size="13.4" font-weight="normal" fill="#f2f2ee" text-anchor="start" textLength="41" lengthAdjust="spacingAndGlyphs">Balkon</text>
<text x="874" y="103.4" font-family='"Liberation Sans", sans-serif' font-size="10" font-weight="normal" fill="#f2f2ee" text-anchor="start" textLength="43" lengthAdjust="spacingAndGlyphs">/ balcony</text>
<rect x="777.00" y="135.50" width="227.20" height="1.70" fill="#dfe3e0" />
<rect x="777.00" y="314.50" width="227.20" height="1.70" fill="#dfe3e0" />
<rect x="777.00" y="154.50" width="227.20" height="0.80" fill="#2d5761" />
<rect x="777.00" y="184.70" width="227.20" height="0.80" fill="#2d5761" />
<rect x="777.00" y="203.50" width="227.20" height="0.80" fill="#2d5761" />
<rect x="777.00" y="222.20" width="227.20" height="0.80" fill="#2d5761" />
<rect x="777.00" y="241.00" width="227.20" height="0.80" fill="#2d5761" />
<rect x="777.00" y="259.50" width="227.20" height="0.80" fill="#2d5761" />
<rect x="777.00" y="278.10" width="227.20" height="0.80" fill="#2d5761" />
<rect x="777.00" y="296.40" width="227.20" height="0.80" fill="#2d5761" />
<text x="790.3" y="148.2" font-family='"Liberation Sans", sans-serif' font-size="9" font-weight="normal" fill="#f2f2ee" text-anchor="start" >01</text>
<text x="809.6" y="148.2" font-family='"Liberation Sans", sans-serif' font-size="9" fill="#f2f2ee">Chodba <tspan font-size="7">/ hallway</tspan></text>
<text x="978" y="148.2" font-family='"Liberation Sans", sans-serif' font-size="9" font-weight="normal" fill="#f2f2ee" text-anchor="end">14,4</text>
<text x="981.8" y="148.2" font-family='"Liberation Sans", sans-serif' font-size="9" font-weight="normal" fill="#f2f2ee">m<tspan font-size="5.5" dy="-3.5">2</tspan></text>
<text x="790.3" y="196.7" font-family='"Liberation Sans", sans-serif' font-size="9" font-weight="normal" fill="#f2f2ee" text-anchor="start" >03</text>
<text x="809.6" y="196.7" font-family='"Liberation Sans", sans-serif' font-size="9" fill="#f2f2ee">Ložnice <tspan font-size="7">/ bedroom</tspan></text>
<text x="978" y="196.7" font-family='"Liberation Sans", sans-serif' font-size="9" font-weight="normal" fill="#f2f2ee" text-anchor="end">12,6</text>
<text x="981.8" y="196.7" font-family='"Liberation Sans", sans-serif' font-size="9" font-weight="normal" fill="#f2f2ee">m<tspan font-size="5.5" dy="-3.5">2</tspan></text>
<text x="790.3" y="215.4" font-family='"Liberation Sans", sans-serif' font-size="9" font-weight="normal" fill="#f2f2ee" text-anchor="start" >04</text>
<text x="809.6" y="215.4" font-family='"Liberation Sans", sans-serif' font-size="9" fill="#f2f2ee">Ložnice <tspan font-size="7">/ bedroom</tspan></text>
<text x="978" y="215.4" font-family='"Liberation Sans", sans-serif' font-size="9" font-weight="normal" fill="#f2f2ee" text-anchor="end">15,0</text>
<text x="981.8" y="215.4" font-family='"Liberation Sans", sans-serif' font-size="9" font-weight="normal" fill="#f2f2ee">m<tspan font-size="5.5" dy="-3.5">2</tspan></text>
<text x="790.3" y="234.1" font-family='"Liberation Sans", sans-serif' font-size="9" font-weight="normal" fill="#f2f2ee" text-anchor="start" >05</text>
<text x="809.6" y="234.1" font-family='"Liberation Sans", sans-serif' font-size="9" fill="#f2f2ee">Koupelna <tspan font-size="7">/ bathroom</tspan></text>
<text x="978" y="234.1" font-family='"Liberation Sans", sans-serif' font-size="9" font-weight="normal" fill="#f2f2ee" text-anchor="end">5,8</text>
<text x="981.8" y="234.1" font-family='"Liberation Sans", sans-serif' font-size="9" font-weight="normal" fill="#f2f2ee">m<tspan font-size="5.5" dy="-3.5">2</tspan></text>
<text x="790.3" y="252.8" font-family='"Liberation Sans", sans-serif' font-size="9" font-weight="normal" fill="#f2f2ee" text-anchor="start" >06</text>
<text x="809.6" y="252.8" font-family='"Liberation Sans", sans-serif' font-size="9" fill="#f2f2ee">WC <tspan font-size="7">/ wc</tspan></text>
<text x="978" y="252.8" font-family='"Liberation Sans", sans-serif' font-size="9" font-weight="normal" fill="#f2f2ee" text-anchor="end">2,6</text>
<text x="981.8" y="252.8" font-family='"Liberation Sans", sans-serif' font-size="9" font-weight="normal" fill="#f2f2ee">m<tspan font-size="5.5" dy="-3.5">2</tspan></text>
<text x="790.3" y="308.6" font-family='"Liberation Sans", sans-serif' font-size="9" font-weight="normal" fill="#f2f2ee" text-anchor="start" >07</text>
<text x="809.6" y="308.6" font-family='"Liberation Sans", sans-serif' font-size="9" fill="#f2f2ee">Balkon <tspan font-size="7">/ balcony</tspan></text>
<text x="978" y="308.6" font-family='"Liberation Sans", sans-serif' font-size="9" font-weight="normal" fill="#f2f2ee" text-anchor="end">16,1</text>
<text x="981.8" y="308.6" font-family='"Liberation Sans", sans-serif' font-size="9" font-weight="normal" fill="#f2f2ee">m<tspan font-size="5.5" dy="-3.5">2</tspan></text>
<text x="790.3" y="172.6" font-family='"Liberation Sans", sans-serif' font-size="9" font-weight="normal" fill="#f2f2ee" text-anchor="start" >02</text>
<text x="809.6" y="167.9" font-family='"Liberation Sans", sans-serif' font-size="9" font-weight="normal" fill="#f2f2ee" text-anchor="start" textLength="78.4" lengthAdjust="spacingAndGlyphs">Obývací pokoj + kk /</text>
<text x="809.6" y="177" font-family='"Liberation Sans", sans-serif' font-size="7" font-weight="normal" fill="#f2f2ee" text-anchor="start" >living room + kk</text>
<text x="978" y="172.6" font-family='"Liberation Sans", sans-serif' font-size="9" font-weight="normal" fill="#f2f2ee" text-anchor="end">32,4</text>
<text x="981.8" y="172.6" font-family='"Liberation Sans", sans-serif' font-size="9" font-weight="normal" fill="#f2f2ee">m<tspan font-size="5.5" dy="-3.5">2</tspan></text>
<text x="790" y="271.5" font-family='"Liberation Sans", sans-serif' font-size="9" fill="#f2f2ee"><tspan font-weight="bold">Obytná plocha bytu</tspan> <tspan font-size="7">/ living area</tspan></text>
<text x="978" y="271.5" font-family='"Liberation Sans", sans-serif' font-size="9" font-weight="bold" fill="#f2f2ee" text-anchor="end">83,0</text>
<text x="981.8" y="271.5" font-family='"Liberation Sans", sans-serif' font-size="9" font-weight="bold" fill="#f2f2ee">m<tspan font-size="5.5" dy="-3.5">2</tspan></text>
<text x="790" y="289.8" font-family='"Liberation Sans", sans-serif' font-size="9" fill="#f2f2ee"><tspan font-weight="bold">Podlahová plocha bytu</tspan> <tspan font-size="7">/ floor area</tspan></text>
<text x="978" y="289.8" font-family='"Liberation Sans", sans-serif' font-size="9" font-weight="bold" fill="#f2f2ee" text-anchor="end">86,5</text>
<text x="981.8" y="289.8" font-family='"Liberation Sans", sans-serif' font-size="9" font-weight="bold" fill="#f2f2ee">m<tspan font-size="5.5" dy="-3.5">2</tspan></text>
<text x="790" y="326.9" font-family='"Liberation Sans", sans-serif' font-size="9" fill="#f2f2ee"><tspan font-weight="bold">Celková plocha</tspan> <tspan font-size="7">/ total area</tspan></text>
<text x="978" y="326.9" font-family='"Liberation Sans", sans-serif' font-size="9" font-weight="bold" fill="#f2f2ee" text-anchor="end">102,6</text>
<text x="981.8" y="326.9" font-family='"Liberation Sans", sans-serif' font-size="9" font-weight="bold" fill="#f2f2ee">m<tspan font-size="5.5" dy="-3.5">2</tspan></text>
<defs><linearGradient id="sky" x1="0" y1="0" x2="0.3" y2="1"><stop offset="0" stop-color="#a3b2c3"/><stop offset="0.35" stop-color="#b7c0ca"/><stop offset="0.65" stop-color="#d3d3cf"/><stop offset="1" stop-color="#ddd3c3"/></linearGradient><linearGradient id="gnd" x1="0" y1="0" x2="0" y2="1"><stop offset="0" stop-color="#b7a897"/><stop offset="1" stop-color="#a79584"/></linearGradient><filter id="blur1"><feGaussianBlur stdDeviation="1.2"/></filter><filter id="blur05"><feGaussianBlur stdDeviation="0.5"/></filter><clipPath id="pc"><rect x="777.7" y="408.9" width="226.2" height="127"/></clipPath></defs>
<g clip-path="url(#pc)"><g filter="url(#blur05)">
<rect x="777.70" y="408.90" width="226.20" height="127.00" fill="url(#sky)" />
<g filter="url(#blur1)">
<ellipse cx="818" cy="419" rx="14" ry="7" fill="#e6cfb2" opacity="0.9"/>
<ellipse cx="848" cy="418" rx="22" ry="6" fill="#e4cdb0" opacity="0.85"/>
<ellipse cx="882" cy="414" rx="24" ry="5" fill="#e8d2b6" opacity="0.8"/>
<ellipse cx="905" cy="422" rx="10" ry="3" fill="#ddc8b0" opacity="0.7"/>
<ellipse cx="955" cy="420" rx="10" ry="3" fill="#d6c3b2" opacity="0.6"/>
<ellipse cx="950" cy="448" rx="12" ry="4" fill="#dcc6b0" opacity="0.75"/>
<ellipse cx="975" cy="457" rx="20" ry="4" fill="#b8a9a6" opacity="0.7"/>
<ellipse cx="995" cy="446" rx="10" ry="3" fill="#b3a8a9" opacity="0.6"/>
<ellipse cx="808" cy="472" rx="14" ry="5" fill="#a8a4ac" opacity="0.6"/>
<ellipse cx="826" cy="478" rx="12" ry="3" fill="#cdb9a8" opacity="0.6"/>
</g>
<path d="M812 485L822 481L836 479L836 511L812 511Z" fill="#8a7d70"/>
<path d="M814 488H836M814 496H836M814 504H836" stroke="#e3dbd0" stroke-width="1"/>
<path d="M814 491H836M814 499H836M814 507H836" stroke="#3a342e" stroke-width="1.3"/>
<path d="M836 470L852 457.5L862 455L862 511L836 511Z" fill="#8c7a68"/>
<path d="M836 471L862 460M836 480L862 470M836 490L862 480M836 500L862 490" stroke="#e0d6ca" stroke-width="1.1"/>
<path d="M836 474L862 464M836 484L862 474M836 494L862 484M836 504L862 494" stroke="#2e2824" stroke-width="1.6"/>
<path d="M852 457.5L862 452L868 452L862 456Z" fill="#5e5044"/>
<path d="M859.5 463.3L884.5 451.6V511H859.5Z" fill="#a4a2a4"/>
<path d="M861 470L884 460V465L861 475ZM861 484L884 474V479L861 489ZM861 498L884 488V493L861 503Z" fill="#3a3430"/>
<path d="M877 450L913.7 437V511H877Z" fill="#8f8378"/>
<path d="M877.1 442.1L909.4 425.3L913.7 437L877.1 450.2Z" fill="#6e5e4f"/>
<path d="M875 463.3L915 449.5V452.0L875 465.8Z" fill="#ddd5cc"/>
<path d="M877 465.8L913 452.0V457.5L877 471.3Z" fill="#2b2622"/>
<path d="M875 482.4L915 468.6V471.1L875 484.9Z" fill="#ddd5cc"/>
<path d="M877 484.9L913 471.1V476.6L877 490.4Z" fill="#2b2622"/>
<path d="M875 498.5L915 484.7V487.2L875 501.0Z" fill="#ddd5cc"/>
<path d="M877 501.0L913 487.2V492.7L877 506.5Z" fill="#2b2622"/>
<path d="M893 444V511" stroke="#c9c1b8" stroke-width="2.2"/>
<path d="M913.7 437L953 462V511H913.7Z" fill="#c8b290"/>
<path d="M909.4 425.3L941.6 453.8L946 457.5L953 462L913.7 437Z" fill="#7b6a58"/>
<rect x="930.00" y="455.00" width="2.60" height="5.00" fill="#3b332c" />
<rect x="938.00" y="462.00" width="2.60" height="5.00" fill="#3b332c" />
<rect x="945.00" y="467.00" width="2.60" height="5.00" fill="#3b332c" />
<rect x="930.00" y="472.00" width="2.60" height="5.00" fill="#3b332c" />
<rect x="938.00" y="477.00" width="2.60" height="5.00" fill="#3b332c" />
<rect x="945.00" y="481.00" width="2.60" height="5.00" fill="#3b332c" />
<rect x="930.00" y="489.00" width="2.60" height="5.00" fill="#3b332c" />
<rect x="938.00" y="492.00" width="2.60" height="5.00" fill="#3b332c" />
<rect x="945.00" y="495.00" width="2.60" height="5.00" fill="#3b332c" />
<rect x="930.00" y="503.00" width="2.60" height="5.00" fill="#3b332c" />
<rect x="938.00" y="505.00" width="2.60" height="5.00" fill="#3b332c" />
<rect x="945.00" y="507.00" width="2.60" height="5.00" fill="#3b332c" />
<path d="M951.8 469H960V509H951.8Z" fill="#a39a92"/>
<path d="M951.8 476H960M951.8 490H960M951.8 502H960" stroke="#3a322c" stroke-width="1.3"/>
<g filter="url(#blur05)">
<path d="M777.7 408.9H796Q806 416 806 428Q813 440 811 455Q808 466 800 472Q794 478 790 470L786 484L777.7 490Z" fill="#5d613c"/>
<path d="M782 416Q790 424 795 440Q800 455 792 468Z" fill="#777449" opacity="0.8"/>
<path d="M785 462L786 522" stroke="#d6cfc0" stroke-width="1.5"/>
<ellipse cx="798.5" cy="411.8" rx="1.4" ry="2.4" fill="#7d7a4c" opacity="0.8"/>
<ellipse cx="799.7" cy="474.2" rx="1.1" ry="2.8" fill="#7d7a4c" opacity="0.8"/>
<ellipse cx="781.0" cy="426.8" rx="1.9" ry="3.1" fill="#55593a" opacity="0.8"/>
<ellipse cx="785.1" cy="452.4" rx="2.2" ry="2.0" fill="#4a4e30" opacity="0.8"/>
<ellipse cx="800.3" cy="434.5" rx="1.2" ry="3.9" fill="#8a8656" opacity="0.8"/>
<ellipse cx="781.3" cy="437.4" rx="1.5" ry="2.7" fill="#8a8656" opacity="0.8"/>
<ellipse cx="803.8" cy="462.5" rx="1.8" ry="3.9" fill="#55593a" opacity="0.8"/>
<ellipse cx="780.5" cy="431.1" rx="1.9" ry="3.8" fill="#8a8656" opacity="0.8"/>
<ellipse cx="796.5" cy="460.7" rx="1.1" ry="2.5" fill="#8a8656" opacity="0.8"/>
<ellipse cx="809.5" cy="471.6" rx="2.3" ry="2.8" fill="#55593a" opacity="0.8"/>
<ellipse cx="798.3" cy="436.3" rx="1.6" ry="2.4" fill="#8a8656" opacity="0.8"/>
<ellipse cx="800.5" cy="459.2" rx="1.1" ry="3.3" fill="#4a4e30" opacity="0.8"/>
<ellipse cx="783.2" cy="437.3" rx="2.5" ry="3.3" fill="#4a4e30" opacity="0.8"/>
<ellipse cx="799.9" cy="470.7" rx="2.2" ry="2.5" fill="#7d7a4c" opacity="0.8"/>
<ellipse cx="803.8" cy="438.9" rx="1.1" ry="3.8" fill="#8a8656" opacity="0.8"/>
<ellipse cx="784.8" cy="445.9" rx="2.3" ry="3.3" fill="#4a4e30" opacity="0.8"/>
<ellipse cx="786.5" cy="427.8" rx="1.8" ry="2.5" fill="#55593a" opacity="0.8"/>
<ellipse cx="806.7" cy="438.8" rx="1.3" ry="4.0" fill="#55593a" opacity="0.8"/>
<ellipse cx="780.9" cy="413.4" rx="1.2" ry="3.3" fill="#55593a" opacity="0.8"/>
<ellipse cx="797.1" cy="437.7" rx="1.9" ry="2.9" fill="#8a8656" opacity="0.8"/>
<ellipse cx="809.1" cy="472.0" rx="1.0" ry="3.4" fill="#8a8656" opacity="0.8"/>
<ellipse cx="802.6" cy="434.5" rx="1.4" ry="2.3" fill="#7d7a4c" opacity="0.8"/>
<ellipse cx="808.5" cy="473.1" rx="1.4" ry="3.0" fill="#4a4e30" opacity="0.8"/>
<ellipse cx="794.2" cy="417.7" rx="1.9" ry="3.7" fill="#4a4e30" opacity="0.8"/>
<ellipse cx="782.9" cy="464.9" rx="1.8" ry="3.6" fill="#7d7a4c" opacity="0.8"/>
<ellipse cx="797.2" cy="445.2" rx="1.2" ry="2.7" fill="#8a8656" opacity="0.8"/>
<ellipse cx="785.7" cy="427.3" rx="1.9" ry="2.2" fill="#55593a" opacity="0.8"/>
<ellipse cx="804.1" cy="480.4" rx="1.8" ry="2.3" fill="#55593a" opacity="0.8"/>
<ellipse cx="794.9" cy="453.7" rx="2.4" ry="3.9" fill="#4a4e30" opacity="0.8"/>
<ellipse cx="800.8" cy="438.7" rx="2.0" ry="2.7" fill="#55593a" opacity="0.8"/>
<ellipse cx="781.9" cy="426.2" rx="1.5" ry="3.2" fill="#4a4e30" opacity="0.8"/>
<ellipse cx="796.8" cy="410.5" rx="2.1" ry="2.1" fill="#7d7a4c" opacity="0.8"/>
<ellipse cx="807.0" cy="471.9" rx="1.1" ry="2.5" fill="#55593a" opacity="0.8"/>
<ellipse cx="784.9" cy="419.5" rx="2.4" ry="3.1" fill="#55593a" opacity="0.8"/>
<ellipse cx="785.8" cy="444.1" rx="1.6" ry="2.2" fill="#55593a" opacity="0.8"/>
<ellipse cx="789.3" cy="439.6" rx="2.3" ry="2.1" fill="#7d7a4c" opacity="0.8"/>
<ellipse cx="779.9" cy="462.4" rx="2.2" ry="2.2" fill="#4a4e30" opacity="0.8"/>
<ellipse cx="784.1" cy="442.3" rx="1.6" ry="2.6" fill="#4a4e30" opacity="0.8"/>
<ellipse cx="803.9" cy="471.6" rx="1.1" ry="3.3" fill="#7d7a4c" opacity="0.8"/>
<ellipse cx="809.0" cy="476.7" rx="2.3" ry="2.3" fill="#55593a" opacity="0.8"/>
<ellipse cx="793.4" cy="472.3" rx="2.4" ry="2.3" fill="#7d7a4c" opacity="0.8"/>
<ellipse cx="803.1" cy="442.8" rx="1.6" ry="3.9" fill="#55593a" opacity="0.8"/>
<ellipse cx="783.0" cy="431.4" rx="2.5" ry="3.2" fill="#7d7a4c" opacity="0.8"/>
<ellipse cx="796.7" cy="446.2" rx="2.3" ry="2.3" fill="#7d7a4c" opacity="0.8"/>
<ellipse cx="780.2" cy="472.1" rx="1.6" ry="3.9" fill="#4a4e30" opacity="0.8"/>
<ellipse cx="796.5" cy="412.9" rx="1.1" ry="3.3" fill="#8a8656" opacity="0.8"/>
<ellipse cx="800.9" cy="427.2" rx="1.6" ry="3.3" fill="#8a8656" opacity="0.8"/>
<ellipse cx="792.6" cy="476.9" rx="2.4" ry="2.0" fill="#7d7a4c" opacity="0.8"/>
<ellipse cx="780.3" cy="425.3" rx="1.4" ry="3.9" fill="#7d7a4c" opacity="0.8"/>
<ellipse cx="806.1" cy="436.6" rx="1.2" ry="3.7" fill="#8a8656" opacity="0.8"/>
<ellipse cx="797.6" cy="481.1" rx="2.0" ry="2.0" fill="#8a8656" opacity="0.8"/>
<ellipse cx="806.5" cy="463.5" rx="1.2" ry="2.6" fill="#4a4e30" opacity="0.8"/>
<path d="M777.7 490Q784 482 794 492Q804 496 806 512H777.7Z" fill="#4f5838"/>
<path d="M905 478Q907 462 920 460Q935 462 936 480Q934 500 920 508Q906 500 905 478Z" fill="#5b6a45"/>
<path d="M959 486Q963 472 976 472Q986 464 1000 468L1004 470V512H958Z" fill="#4e5c39"/>
<circle cx="926.1" cy="471.6" r="1.8" fill="#4a5836" opacity="0.8"/>
<circle cx="920.2" cy="473.5" r="2.1" fill="#728152" opacity="0.8"/>
<circle cx="908.6" cy="480.8" r="1.3" fill="#728152" opacity="0.8"/>
<circle cx="915.3" cy="468.5" r="2.2" fill="#728152" opacity="0.8"/>
<circle cx="926.8" cy="486.2" r="1.5" fill="#728152" opacity="0.8"/>
<circle cx="909.1" cy="502.7" r="1.8" fill="#728152" opacity="0.8"/>
<circle cx="921.3" cy="498.1" r="1.7" fill="#728152" opacity="0.8"/>
<circle cx="918.0" cy="464.8" r="1.4" fill="#728152" opacity="0.8"/>
<circle cx="931.2" cy="471.8" r="1.3" fill="#728152" opacity="0.8"/>
<circle cx="915.9" cy="486.5" r="2.0" fill="#83905e" opacity="0.8"/>
<circle cx="927.0" cy="501.9" r="1.3" fill="#728152" opacity="0.8"/>
<circle cx="933.3" cy="497.1" r="2.1" fill="#728152" opacity="0.8"/>
<circle cx="911.0" cy="501.8" r="1.9" fill="#4a5836" opacity="0.8"/>
<circle cx="928.5" cy="499.3" r="2.0" fill="#4a5836" opacity="0.8"/>
<circle cx="910.5" cy="492.5" r="1.5" fill="#728152" opacity="0.8"/>
<circle cx="930.0" cy="472.3" r="2.0" fill="#4a5836" opacity="0.8"/>
<circle cx="915.8" cy="497.5" r="2.0" fill="#728152" opacity="0.8"/>
<circle cx="906.7" cy="471.1" r="1.4" fill="#728152" opacity="0.8"/>
<circle cx="933.1" cy="474.7" r="1.8" fill="#4a5836" opacity="0.8"/>
<circle cx="925.0" cy="498.4" r="1.4" fill="#728152" opacity="0.8"/>
<circle cx="909.2" cy="503.8" r="1.2" fill="#4a5836" opacity="0.8"/>
<circle cx="907.1" cy="488.1" r="1.4" fill="#4a5836" opacity="0.8"/>
<circle cx="918.2" cy="504.3" r="1.1" fill="#83905e" opacity="0.8"/>
<circle cx="911.3" cy="464.9" r="1.5" fill="#83905e" opacity="0.8"/>
<circle cx="931.9" cy="485.6" r="1.9" fill="#83905e" opacity="0.8"/>
<circle cx="992.2" cy="479.1" r="1.6" fill="#6f7c50" opacity="0.8"/>
<circle cx="999.8" cy="494.4" r="2.0" fill="#637048" opacity="0.8"/>
<circle cx="991.5" cy="482.8" r="1.5" fill="#3f4b2e" opacity="0.8"/>
<circle cx="975.4" cy="497.1" r="1.8" fill="#637048" opacity="0.8"/>
<circle cx="979.2" cy="505.9" r="2.0" fill="#637048" opacity="0.8"/>
<circle cx="987.2" cy="482.8" r="1.8" fill="#637048" opacity="0.8"/>
<circle cx="974.5" cy="479.6" r="2.2" fill="#6f7c50" opacity="0.8"/>
<circle cx="988.8" cy="488.7" r="1.7" fill="#637048" opacity="0.8"/>
<circle cx="983.0" cy="500.6" r="2.4" fill="#6f7c50" opacity="0.8"/>
<circle cx="969.0" cy="475.1" r="1.8" fill="#6f7c50" opacity="0.8"/>
<circle cx="987.4" cy="475.4" r="2.4" fill="#637048" opacity="0.8"/>
<circle cx="989.6" cy="480.1" r="1.3" fill="#637048" opacity="0.8"/>
<circle cx="963.9" cy="507.4" r="1.9" fill="#637048" opacity="0.8"/>
<circle cx="980.7" cy="503.9" r="1.9" fill="#6f7c50" opacity="0.8"/>
<circle cx="990.6" cy="489.8" r="1.4" fill="#6f7c50" opacity="0.8"/>
<circle cx="990.2" cy="504.1" r="2.3" fill="#637048" opacity="0.8"/>
<circle cx="993.9" cy="479.9" r="2.2" fill="#6f7c50" opacity="0.8"/>
<circle cx="983.2" cy="473.8" r="1.4" fill="#637048" opacity="0.8"/>
<circle cx="980.7" cy="500.9" r="2.0" fill="#6f7c50" opacity="0.8"/>
<circle cx="986.4" cy="506.2" r="2.3" fill="#6f7c50" opacity="0.8"/>
<circle cx="995.4" cy="504.1" r="1.6" fill="#6f7c50" opacity="0.8"/>
<circle cx="980.3" cy="477.7" r="2.3" fill="#3f4b2e" opacity="0.8"/>
<circle cx="972.6" cy="480.9" r="2.0" fill="#6f7c50" opacity="0.8"/>
<circle cx="981.9" cy="480.6" r="1.7" fill="#6f7c50" opacity="0.8"/>
<circle cx="973.7" cy="481.8" r="1.5" fill="#6f7c50" opacity="0.8"/>
<circle cx="965.3" cy="477.4" r="1.6" fill="#637048" opacity="0.8"/>
<circle cx="991.0" cy="474.3" r="1.6" fill="#6f7c50" opacity="0.8"/>
<circle cx="981.1" cy="474.2" r="2.2" fill="#3f4b2e" opacity="0.8"/>
<circle cx="999.1" cy="493.0" r="2.0" fill="#6f7c50" opacity="0.8"/>
<circle cx="977.6" cy="472.2" r="1.5" fill="#3f4b2e" opacity="0.8"/>
</g>
<path d="M777.7 510H1004V536H777.7Z" fill="url(#gnd)"/>
<path d="M790 512H920L930 536H800Z" fill="#c2b4a4" opacity="0.8"/>
<path d="M777.7 515H810V526H777.7Z" fill="#6c5c4e"/>
<path d="M777.7 524H808V528H777.7Z" fill="#3f352c"/>
<path d="M836 508H870V512H836Z" fill="#d5c9b8"/>
<path d="M918 512L1004 509V530L920 524Z" fill="#786756"/>
<path d="M920 522L1004 528V531L920 525Z" fill="#453a30"/>
<path d="M852 531Q872 522 894 527Q884 537 856 536Z" fill="#4a4848"/>
<path d="M814 500h3.5v22h-3.5zM820 503h3v19h-3zM946 497h3.5v31h-3.5zM857 504h3v13h-3zM884 503h2.5v12h-2.5z" fill="#ddd6ce"/>
<path d="M814 512h3.5v10h-3.5zM820 512h3v10h-3z" fill="#7e93a6"/>
<circle cx="815.8" cy="498" r="2" fill="#5a4a3c"/><circle cx="947.7" cy="495" r="2.4" fill="#2e2824"/>
<ellipse cx="937" cy="528" rx="3.5" ry="2" fill="#e6dfd6"/>
</g></g>
<text x="781.5" y="584.5" font-family='"Liberation Sans", sans-serif' font-size="23" fill="#f2f2ee" stroke="#043a42" stroke-width="0.7" textLength="58.5" lengthAdjust="spacingAndGlyphs">Nové</text>
<text x="781.5" y="605" font-family='"Liberation Sans", sans-serif' font-size="23" fill="#f2f2ee" stroke="#043a42" stroke-width="0.7" textLength="79.5" lengthAdjust="spacingAndGlyphs">Chabry</text>
<text x="782.5" y="613.2" font-family='"Liberation Sans", sans-serif' font-size="7" fill="#c9d0cf" letter-spacing="6.1">Praha 8</text>
<path d="M871.5 563.5C860 567 846 568 844.5 580C844 584 846 587.5 849 588.6C863 588 871 575 871.5 563.5Z" fill="#f2f2ee"/>
<path d="M848.3 588.5C847.5 580 852 573.5 865 569.5" stroke="#043a42" stroke-width="1.5" fill="none"/>
<text x="914.5" y="591.4" font-family='"Liberation Sans", sans-serif' font-size="13.6" font-weight="bold" fill="#f2f2ee">Star</text>
<text x="961.5" y="591.4" font-family='"Liberation Sans", sans-serif' font-size="13.6" font-weight="bold" fill="#f2f2ee">Group</text>
<path d="M947.5 584L941 579.5L948.5 579L952.1 572L955.7 579L962.5 579.3L956.8 583.5L958.7 590.6L952.5 586.5L944.4 596.4" fill="none" stroke="#cdd6d5" stroke-width="1" stroke-linejoin="miter"/>
<text x="777.7" y="644.0" font-family='"Liberation Sans", sans-serif' font-size="5.5" fill="#c7cfcf" textLength="226" lengthAdjust="spacing">Tento výkres byl zpracován pro marketingové účely. Developer se tímto nevzdává práva na</text>
<text x="777.7" y="650.5" font-family='"Liberation Sans", sans-serif' font-size="5.5" fill="#c7cfcf" textLength="226" lengthAdjust="spacing">případné změny, úpravy či doplnění tohoto materiálu. Jeho závazná podoba bude</text>
<text x="777.7" y="656.9" font-family='"Liberation Sans", sans-serif' font-size="5.5" fill="#c7cfcf" >předmětem smlouvy mezi developerem a klientem.</text>
<text x="777.7" y="663.4" font-family='"Liberation Sans", sans-serif' font-size="5.5" fill="#c7cfcf" textLength="226" lengthAdjust="spacing">This drawing serves marketing purpose only. The developer shall not be restricted in his right</text>
<text x="777.7" y="669.8" font-family='"Liberation Sans", sans-serif' font-size="5.5" fill="#c7cfcf" textLength="226" lengthAdjust="spacing">to change, modify or supplement this marketing material. Its final version shall be subject of</text>
<text x="777.7" y="676.3" font-family='"Liberation Sans", sans-serif' font-size="5.5" fill="#c7cfcf" >contract between the developer and the client.</text>
<text x="777.7" y="689.2" font-family='"Liberation Sans", sans-serif' font-size="5.5" fill="#c7cfcf" >Podlahová plocha bytu (ateliéru) je měřena dle nařízení vlády 366/2013 Sb.</text>
<text x="777.7" y="695.7" font-family='"Liberation Sans", sans-serif' font-size="5.5" fill="#c7cfcf" textLength="226" lengthAdjust="spacing">The floor area of the apartment (atelier) is measured according to the Government Degree</text>
<text x="777.7" y="702.1" font-family='"Liberation Sans", sans-serif' font-size="5.5" fill="#c7cfcf" >No. 366/2013 Coll.</text>
<path d="M44 676.5H140.5" stroke="#d8d8d8" stroke-width="0.6"/>
<rect x="48.30" y="605.50" width="91.70" height="34.80" fill="#d9d9d9" />
<rect x="48.3" y="605.5" width="91.7" height="34.8" fill="none" stroke="#b0b0b0" stroke-width="0.6"/>
<rect x="44.50" y="612.00" width="15.50" height="27.00" fill="#ececec" />
<path d="M44.5 612H60V639H44.5Z" fill="none" stroke="#bbb" stroke-width="0.5"/>
<path d="M52 607V640M60 607V640M64 621H140M64 637H140M80 606V640M104 606V640M122 606V640" stroke="#c4c4c4" stroke-width="0.5"/>
<rect x="66.50" y="607.70" width="9.50" height="11.10" fill="#bdbdbd" />
<circle cx="71.2" cy="613.2" r="1.3" fill="#2a2a2a"/>
<rect x="66.50" y="623.80" width="9.50" height="11.00" fill="#bdbdbd" />
<circle cx="71.2" cy="629.3" r="1.3" fill="#2a2a2a"/>
<rect x="84.20" y="623.80" width="9.90" height="10.50" fill="#bdbdbd" />
<circle cx="89.2" cy="629.0" r="1.3" fill="#2a2a2a"/>
<rect x="108.50" y="623.80" width="10.50" height="10.50" fill="#bdbdbd" />
<circle cx="113.8" cy="629.0" r="1.3" fill="#2a2a2a"/>
<rect x="127.30" y="607.70" width="9.90" height="11.10" fill="#bdbdbd" />
<circle cx="132.2" cy="613.2" r="1.3" fill="#2a2a2a"/>
<rect x="127.30" y="623.80" width="9.90" height="10.50" fill="#bdbdbd" />
<circle cx="132.2" cy="629.0" r="1.3" fill="#2a2a2a"/>
<ellipse cx="89" cy="613" rx="7" ry="4.5" fill="#ececec" stroke="#bbb" stroke-width="0.4"/>
<ellipse cx="101" cy="612" rx="7" ry="4.5" fill="#ececec" stroke="#bbb" stroke-width="0.4"/>
<ellipse cx="112" cy="613" rx="6" ry="4" fill="#e6e6e6" stroke="#bbb" stroke-width="0.4"/>
<rect x="44.50" y="640.30" width="63.10" height="31.70" fill="#fdfdfd" />
<rect x="51.60" y="641.00" width="9.40" height="29.50" fill="#cdcdcd" />
<path d="M53 645h6v4h-6zM53 655h6v5h-6zM53 663h6v5h-6z" fill="#9a9a9a"/>
<rect x="62.70" y="642.50" width="9.90" height="11.60" fill="#dddddd" />
<path d="M62.7 646.5H72.60000000000001M62.7 650.5H72.60000000000001" stroke="#cacaca" stroke-width="0.5"/>
<rect x="79.80" y="642.50" width="9.90" height="11.60" fill="#dddddd" />
<path d="M79.8 646.5H89.7M79.8 650.5H89.7" stroke="#cacaca" stroke-width="0.5"/>
<rect x="94.70" y="642.50" width="9.90" height="11.60" fill="#dddddd" />
<path d="M94.7 646.5H104.60000000000001M94.7 650.5H104.60000000000001" stroke="#cacaca" stroke-width="0.5"/>
<rect x="62.70" y="658.60" width="9.90" height="11.60" fill="#dddddd" />
<path d="M62.7 662.6H72.60000000000001M62.7 666.6H72.60000000000001" stroke="#cacaca" stroke-width="0.5"/>
<rect x="79.80" y="658.60" width="9.90" height="11.60" fill="#dddddd" />
<path d="M79.8 662.6H89.7M79.8 666.6H89.7" stroke="#cacaca" stroke-width="0.5"/>
<rect x="94.70" y="658.60" width="9.90" height="11.60" fill="#dddddd" />
<path d="M94.7 662.6H104.60000000000001M94.7 666.6H104.60000000000001" stroke="#cacaca" stroke-width="0.5"/>
<rect x="107.60" y="640.30" width="32.40" height="30.40" fill="#3e6e77" />
<rect x="109.80" y="642.50" width="28.00" height="26.00" fill="#d2d2d2" />
<rect x="127.30" y="642.50" width="9.90" height="11.60" fill="#b3b3b3" />
<circle cx="132.2" cy="648.3" r="1.3" fill="#2a2a2a"/>
<rect x="110.50" y="658.50" width="9.50" height="9.50" fill="#b3b3b3" />
<circle cx="115.2" cy="663.2" r="1.3" fill="#2a2a2a"/>
<rect x="127.30" y="658.50" width="9.90" height="9.50" fill="#b3b3b3" />
<circle cx="132.2" cy="663.2" r="1.3" fill="#2a2a2a"/>
<rect x="111.80" y="643.10" width="9.40" height="8.80" fill="#0c3a44" />
<text x="116.5" y="650.3" font-family='"Liberation Sans", sans-serif' font-size="6" fill="#fff" text-anchor="middle">A</text>
<text x="95.2" y="692.7" font-family='"Liberation Sans", sans-serif' font-size="10.3" fill="#6b6b6b" text-anchor="middle">situační schéma</text>
<text x="95.5" y="701" font-family='"Liberation Sans", sans-serif' font-size="7" fill="#858585" text-anchor="middle">site layout scheme</text>
<path d="M231.7 614.4H245.4V617.5H299.3V635.7H303.1V645.6H297V663.8H299.3V670H281.9V674.5H265V670.5H250V674.5H233.2V645.6H230.2V635.7H237.8V627.4H231.7Z" fill="#fff" stroke="#111" stroke-width="1.4"/>
<path d="M231.7 614.4H245.4V617.5H275.5V633.5H267V635.7H252V633.5H244V627.4H231.7Z" fill="#6e98a0" stroke="#111" stroke-width="0.9"/>
<path d="M276 617.5V635.7M288 617.5V635.7M237.8 635.7H303M233.2 645.6H297M250 635.7V674.5M265 645.6V670.5M281.9 645.6V670M250 656H265M233 660H250M281.9 656H297M270 635.7V645.6M259 645.6V656M240 645.6V660M288 656V670M275 656V670.5H265M244 664H250" stroke="#111" stroke-width="0.9" fill="none"/>
<path d="M266 633H279V636H266Z" fill="#111"/>
<path d="M252 640h3v3h-3zM286 641h2v2h-2zM243 652h2v2h-2zM270 660h2v2h-2zM290 650h2v2h-2z" fill="#333"/>
<text x="267" y="692.7" font-family='"Liberation Sans", sans-serif' font-size="10.3" fill="#6b6b6b" text-anchor="middle">pozice na podlaží</text>
<text x="266.6" y="701" font-family='"Liberation Sans", sans-serif' font-size="7" fill="#858585" text-anchor="middle">position on the floor</text>
<rect x="408.40" y="644.20" width="57.10" height="30.60" fill="#111" />
<rect x="418.40" y="633.40" width="43.80" height="11.10" fill="#111" />
<rect x="462.00" y="637.00" width="3.00" height="7.50" fill="#111" />
<rect x="408.40" y="641.00" width="10.20" height="3.50" fill="#111" />
<rect x="420.20" y="637.00" width="8.30" height="6.20" fill="#fdfdfd" />
<rect x="429.90" y="637.00" width="1.80" height="6.20" fill="#fdfdfd" />
<rect x="433.20" y="637.00" width="3.50" height="6.20" fill="#fdfdfd" />
<rect x="438.20" y="637.00" width="15.10" height="6.20" fill="#fdfdfd" />
<rect x="454.30" y="637.00" width="6.80" height="6.20" fill="#fdfdfd" />
<rect x="408.40" y="645.60" width="59.60" height="6.10" fill="#6e98a0" />
<rect x="409.80" y="652.80" width="8.20" height="5.70" fill="#fdfdfd" />
<rect x="419.20" y="652.80" width="2.80" height="5.70" fill="#fdfdfd" />
<rect x="423.50" y="652.80" width="3.50" height="5.70" fill="#fdfdfd" />
<rect x="428.50" y="652.80" width="3.90" height="5.70" fill="#fdfdfd" />
<rect x="433.90" y="652.80" width="2.80" height="5.70" fill="#fdfdfd" />
<rect x="438.20" y="652.80" width="2.80" height="5.70" fill="#fdfdfd" />
<rect x="442.50" y="652.80" width="4.30" height="5.70" fill="#fdfdfd" />
<rect x="447.90" y="652.80" width="2.50" height="5.70" fill="#fdfdfd" />
<rect x="451.80" y="652.80" width="2.20" height="5.70" fill="#fdfdfd" />
<rect x="455.00" y="652.80" width="8.70" height="5.70" fill="#fdfdfd" />
<rect x="409.80" y="660.00" width="8.20" height="6.00" fill="#fdfdfd" />
<rect x="419.20" y="660.00" width="2.80" height="6.00" fill="#fdfdfd" />
<rect x="423.50" y="660.00" width="3.50" height="6.00" fill="#fdfdfd" />
<rect x="428.50" y="660.00" width="3.90" height="6.00" fill="#fdfdfd" />
<rect x="433.90" y="660.00" width="2.80" height="6.00" fill="#fdfdfd" />
<rect x="438.20" y="660.00" width="2.80" height="6.00" fill="#fdfdfd" />
<rect x="442.50" y="660.00" width="4.30" height="6.00" fill="#fdfdfd" />
<rect x="447.90" y="660.00" width="2.50" height="6.00" fill="#fdfdfd" />
<rect x="451.80" y="660.00" width="2.20" height="6.00" fill="#fdfdfd" />
<rect x="455.00" y="660.00" width="8.70" height="6.00" fill="#fdfdfd" />
<rect x="409.80" y="667.50" width="8.20" height="5.70" fill="#fdfdfd" />
<rect x="419.20" y="667.50" width="13.60" height="5.70" fill="#fdfdfd" />
<rect x="434.20" y="667.50" width="2.50" height="5.70" fill="#fdfdfd" />
<rect x="438.20" y="667.50" width="2.80" height="5.70" fill="#fdfdfd" />
<rect x="442.50" y="667.50" width="4.30" height="5.70" fill="#fdfdfd" />
<rect x="447.90" y="667.50" width="8.10" height="5.70" fill="#fdfdfd" />
<rect x="457.20" y="667.50" width="2.50" height="5.70" fill="#fdfdfd" />
<rect x="460.40" y="667.50" width="3.30" height="5.70" fill="#fdfdfd" />
<rect x="409.80" y="646.60" width="8.20" height="4.10" fill="#8fb3b9" />
<rect x="419.20" y="646.60" width="2.80" height="4.10" fill="#8fb3b9" />
<rect x="423.50" y="646.60" width="3.50" height="4.10" fill="#8fb3b9" />
<rect x="428.50" y="646.60" width="3.90" height="4.10" fill="#8fb3b9" />
<rect x="433.90" y="646.60" width="2.80" height="4.10" fill="#8fb3b9" />
<rect x="438.20" y="646.60" width="2.80" height="4.10" fill="#8fb3b9" />
<rect x="442.50" y="646.60" width="4.30" height="4.10" fill="#8fb3b9" />
<rect x="447.90" y="646.60" width="2.50" height="4.10" fill="#8fb3b9" />
<rect x="451.80" y="646.60" width="2.20" height="4.10" fill="#8fb3b9" />
<rect x="455.00" y="646.60" width="8.70" height="4.10" fill="#8fb3b9" />
<circle cx="413.8" cy="637" r="1" fill="#111"/>
<text x="437.6" y="692.1" font-family='"Liberation Sans", sans-serif' font-size="10.3" fill="#6b6b6b" text-anchor="middle">schématický řez</text>
<text x="437.9" y="700.6" font-family='"Liberation Sans", sans-serif' font-size="7" fill="#858585" text-anchor="middle">schematic section</text>
<circle cx="582.7" cy="659.7" r="12.5" fill="none" stroke="#777" stroke-width="0.7"/>
<path d="M582.7 636V672M570.2 659.7H595.2" stroke="#777" stroke-width="0.7"/>
<path d="M582.7 634L586.7 642.3L582.7 641Z" fill="#111"/><path d="M582.7 634L578.7 642.3L582.7 641Z" fill="#fff" stroke="#777" stroke-width="0.5"/>
<path d="M622.5 663.3V655.5H632.2V663.3H642.5V655.5H662.8V663.3H703.4V655.5" stroke="#777" stroke-width="0.7" fill="none"/>
<text x="614" y="662.5" font-family='"Liberation Sans", sans-serif' font-size="6.5" fill="#666">m</text>
<text x="626" y="654" font-family='"Liberation Sans", sans-serif' font-size="6.5" fill="#666">0.25</text>
<text x="620.5" y="670.5" font-family='"Liberation Sans", sans-serif' font-size="6.5" fill="#666">0</text>
<text x="638.5" y="670.5" font-family='"Liberation Sans", sans-serif' font-size="6.5" fill="#666">0.5</text>
<text x="661.5" y="654" font-family='"Liberation Sans", sans-serif' font-size="6.5" fill="#666">1</text>
<text x="701" y="654" font-family='"Liberation Sans", sans-serif' font-size="6.5" fill="#666">2</text></svg>
</body></html>
